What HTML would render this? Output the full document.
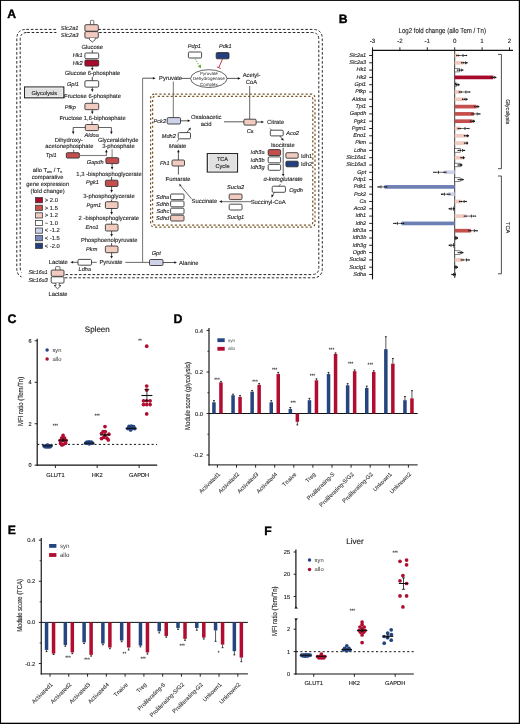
<!DOCTYPE html>
<html><head><meta charset="utf-8"><style>
html,body{margin:0;padding:0;background:#fff;}
body{width:520px;height:724px;overflow:hidden;}
svg{display:block;font-family:"Liberation Sans", sans-serif;will-change:transform;text-rendering:geometricPrecision;}
</style></head><body>
<svg width="520" height="724" viewBox="0 0 520 724">
<rect x="0" y="0" width="520" height="724" fill="#fff"/>
<text x="7.30" y="17.70" font-size="12.2" text-anchor="start" font-style="normal" font-weight="bold" fill="#000" stroke="#000" stroke-width="0.35" >A</text>
<path d="M26.3,29.4 L312.8,29.4 Q322.3,29.4 322.3,38.9 L322.3,268.3 Q322.3,277.8 312.8,277.8 L26.3,277.8 Q16.8,277.8 16.8,268.3 L16.8,38.9 Q16.8,29.4 26.3,29.4 Z" stroke="#1a1a1a" stroke-width="0.95" fill="none" stroke-dasharray="2.6,1.9"/>
<path d="M27.2,32.5 L311.8,32.5 Q318.8,32.5 318.8,39.5 L318.8,267.6 Q318.8,274.6 311.8,274.6 L27.2,274.6 Q20.2,274.6 20.2,267.6 L20.2,39.5 Q20.2,32.5 27.2,32.5 Z" stroke="#1a1a1a" stroke-width="0.95" fill="none" stroke-dasharray="2.6,1.9"/>
<rect x="56.50" y="27.00" width="28.30" height="8.00" rx="0" fill="#fff" stroke="none" stroke-width="0.8" />
<rect x="21.50" y="272.00" width="29.40" height="8.00" rx="0" fill="#fff" stroke="none" stroke-width="0.8" />
<path d="M155.1,94.0 L310.5,94.0 Q315.0,94.0 315.0,98.5 L315.0,222.7 Q315.0,227.2 310.5,227.2 L155.1,227.2 Q150.6,227.2 150.6,222.7 L150.6,98.5 Q150.6,94.0 155.1,94.0 Z" stroke="#765529" stroke-width="1.25" fill="none" stroke-dasharray="2.1,2.2"/>
<path d="M155.6,96.3 L309.8,96.3 Q312.8,96.3 312.8,99.3 L312.8,222.1 Q312.8,225.1 309.8,225.1 L155.6,225.1 Q152.6,225.1 152.6,222.1 L152.6,99.3 Q152.6,96.3 155.6,96.3 Z" stroke="#765529" stroke-width="1.25" fill="none" stroke-dasharray="2.1,2.2" stroke-dashoffset="2.1"/>
<rect x="24.60" y="87.00" width="39.20" height="10.80" rx="0" fill="#e1e1e1" stroke="#2a2a2a" stroke-width="1.2" />
<rect x="25.60" y="88.00" width="37.20" height="8.80" rx="0" fill="none" stroke="#fafafa" stroke-width="0.6" />
<text x="44.20" y="94.60" font-size="5.7" text-anchor="middle" font-style="normal" font-weight="normal" fill="#1e1e1e" stroke="#1e1e1e" stroke-width="0.12" >Glycolysis</text>
<rect x="207.30" y="153.60" width="30.20" height="18.40" rx="0" fill="#e1e1e1" stroke="#2a2a2a" stroke-width="1.2" />
<rect x="208.30" y="154.60" width="28.20" height="16.40" rx="0" fill="none" stroke="#fafafa" stroke-width="0.6" />
<text x="222.50" y="161.20" font-size="5.6" text-anchor="middle" font-style="normal" font-weight="normal" fill="#1e1e1e" stroke="#1e1e1e" stroke-width="0.12" >TCA</text>
<text x="222.50" y="167.90" font-size="5.6" text-anchor="middle" font-style="normal" font-weight="normal" fill="#1e1e1e" stroke="#1e1e1e" stroke-width="0.12" >Cycle</text>
<path d="M90.4,24.8 L90.4,21.4 Q90.4,20.4 91.4,20.4 L92.8,20.4 Q93.8,20.4 93.8,21.4 L93.8,24.8" fill="#fff" stroke="#333" stroke-width="0.7"/>
<rect x="84.90" y="24.70" width="13.40" height="6.50" rx="1.1" fill="#f1cbc0" stroke="#2a2a2a" stroke-width="0.85" />
<rect x="84.90" y="31.60" width="13.40" height="6.50" rx="1.1" fill="#f1cbc0" stroke="#2a2a2a" stroke-width="0.85" />
<path d="M89.5,38.1 L89.5,39.6 L92.35,42.1 L95.2,39.6 L95.2,38.1" fill="#fff" stroke="#2a2a2a" stroke-width="0.8"/>
<text x="78.60" y="29.80" font-size="5.8" text-anchor="end" font-style="italic" font-weight="normal" fill="#1e1e1e" stroke="#1e1e1e" stroke-width="0.12" >Slc2a1</text>
<text x="78.60" y="36.90" font-size="5.8" text-anchor="end" font-style="italic" font-weight="normal" fill="#1e1e1e" stroke="#1e1e1e" stroke-width="0.12" >Slc2a3</text>
<text x="92.20" y="48.60" font-size="5.85" text-anchor="middle" font-style="normal" font-weight="normal" fill="#1e1e1e" stroke="#1e1e1e" stroke-width="0.12" >Glucose</text>
<line x1="92.30" y1="50.20" x2="92.30" y2="53.00" stroke="#222" stroke-width="0.8" />
<rect x="84.90" y="53.00" width="13.80" height="5.70" rx="1.1" fill="#ffffff" stroke="#2a2a2a" stroke-width="0.85" />
<rect x="84.90" y="60.00" width="13.80" height="6.10" rx="1.1" fill="#a80a2c" stroke="#2a2a2a" stroke-width="0.85" />
<text x="82.60" y="57.40" font-size="5.6" text-anchor="end" font-style="italic" font-weight="normal" fill="#1e1e1e" stroke="#1e1e1e" stroke-width="0.12" >Hk1</text>
<text x="82.60" y="64.80" font-size="5.6" text-anchor="end" font-style="italic" font-weight="normal" fill="#1e1e1e" stroke="#1e1e1e" stroke-width="0.12" >Hk2</text>
<line x1="92.30" y1="66.10" x2="92.30" y2="68.80" stroke="#222" stroke-width="0.75" />
<path d="M91.00,67.90 L93.60,67.90 L92.30,70.60 Z" fill="#1a1a1a"/>
<text x="92.50" y="75.10" font-size="5.85" text-anchor="middle" font-style="normal" font-weight="normal" fill="#1e1e1e" stroke="#1e1e1e" stroke-width="0.12" >Glucose 6-phosphate</text>
<line x1="92.30" y1="76.80" x2="92.30" y2="80.70" stroke="#222" stroke-width="0.8" />
<rect x="84.90" y="80.70" width="13.80" height="6.40" rx="1.1" fill="#ffffff" stroke="#2a2a2a" stroke-width="0.85" />
<text x="78.80" y="86.20" font-size="5.6" text-anchor="end" font-style="italic" font-weight="normal" fill="#1e1e1e" stroke="#1e1e1e" stroke-width="0.12" >Gpi1</text>
<line x1="92.30" y1="87.10" x2="92.30" y2="90.20" stroke="#222" stroke-width="0.75" />
<path d="M91.00,89.30 L93.60,89.30 L92.30,92.00 Z" fill="#1a1a1a"/>
<text x="92.50" y="97.50" font-size="5.85" text-anchor="middle" font-style="normal" font-weight="normal" fill="#1e1e1e" stroke="#1e1e1e" stroke-width="0.12" >Fructose 6-phosphate</text>
<line x1="92.30" y1="98.80" x2="92.30" y2="103.30" stroke="#222" stroke-width="0.8" />
<rect x="84.90" y="103.30" width="13.80" height="6.40" rx="1.1" fill="#f1cbc0" stroke="#2a2a2a" stroke-width="0.85" />
<text x="75.90" y="108.60" font-size="5.6" text-anchor="end" font-style="italic" font-weight="normal" fill="#1e1e1e" stroke="#1e1e1e" stroke-width="0.12" >Pfkp</text>
<line x1="92.30" y1="109.70" x2="92.30" y2="112.40" stroke="#222" stroke-width="0.75" />
<path d="M91.00,111.50 L93.60,111.50 L92.30,114.20 Z" fill="#1a1a1a"/>
<text x="92.60" y="120.00" font-size="5.85" text-anchor="middle" font-style="normal" font-weight="normal" fill="#1e1e1e" stroke="#1e1e1e" stroke-width="0.12" >Fructose 1,6-biphosphate</text>
<line x1="92.00" y1="121.40" x2="92.00" y2="124.50" stroke="#222" stroke-width="0.8" />
<rect x="85.30" y="124.50" width="13.10" height="6.10" rx="1.1" fill="#f1cbc0" stroke="#2a2a2a" stroke-width="0.85" />
<text x="91.60" y="136.60" font-size="5.6" text-anchor="middle" font-style="italic" font-weight="normal" fill="#1e1e1e" stroke="#1e1e1e" stroke-width="0.12" >Aldoa</text>
<line x1="73.20" y1="127.50" x2="85.30" y2="127.50" stroke="#222" stroke-width="0.7" />
<line x1="98.40" y1="127.50" x2="111.40" y2="127.50" stroke="#222" stroke-width="0.7" />
<line x1="73.20" y1="127.50" x2="73.20" y2="132.50" stroke="#222" stroke-width="0.75" />
<path d="M71.90,131.60 L74.50,131.60 L73.20,134.30 Z" fill="#1a1a1a"/>
<line x1="111.40" y1="127.50" x2="111.40" y2="132.50" stroke="#222" stroke-width="0.75" />
<path d="M110.10,131.60 L112.70,131.60 L111.40,134.30 Z" fill="#1a1a1a"/>
<text x="68.80" y="142.00" font-size="5.85" text-anchor="middle" font-style="normal" font-weight="normal" fill="#1e1e1e" stroke="#1e1e1e" stroke-width="0.12" >Dihydroxy-</text>
<text x="69.40" y="147.50" font-size="5.85" text-anchor="middle" font-style="normal" font-weight="normal" fill="#1e1e1e" stroke="#1e1e1e" stroke-width="0.12" >acetonephosphate</text>
<text x="118.30" y="142.00" font-size="5.85" text-anchor="middle" font-style="normal" font-weight="normal" fill="#1e1e1e" stroke="#1e1e1e" stroke-width="0.12" >Glyceraldehyde</text>
<text x="118.40" y="147.50" font-size="5.85" text-anchor="middle" font-style="normal" font-weight="normal" fill="#1e1e1e" stroke="#1e1e1e" stroke-width="0.12" >3-phosphate</text>
<line x1="73.70" y1="149.80" x2="73.70" y2="152.70" stroke="#222" stroke-width="0.7" />
<rect x="66.30" y="152.70" width="13.10" height="5.40" rx="1.1" fill="#c4504e" stroke="#2a2a2a" stroke-width="0.85" />
<text x="56.60" y="157.10" font-size="5.6" text-anchor="end" font-style="italic" font-weight="normal" fill="#1e1e1e" stroke="#1e1e1e" stroke-width="0.12" >Tpi1</text>
<line x1="79.40" y1="155.50" x2="106.40" y2="155.50" stroke="#808080" stroke-width="1.1" />
<line x1="106.40" y1="156.00" x2="106.40" y2="152.00" stroke="#808080" stroke-width="1.1" />
<line x1="106.40" y1="152.50" x2="106.40" y2="151.40" stroke="#222" stroke-width="0.75" />
<path d="M105.10,152.30 L107.70,152.30 L106.40,149.60 Z" fill="#1a1a1a"/>
<line x1="112.10" y1="149.30" x2="112.10" y2="157.70" stroke="#808080" stroke-width="1.0" />
<rect x="105.90" y="157.70" width="12.80" height="5.90" rx="1.1" fill="#c4504e" stroke="#2a2a2a" stroke-width="0.85" />
<text x="103.60" y="163.90" font-size="5.6" text-anchor="end" font-style="italic" font-weight="normal" fill="#1e1e1e" stroke="#1e1e1e" stroke-width="0.12" >Gapdh</text>
<line x1="112.10" y1="163.60" x2="112.10" y2="168.00" stroke="#222" stroke-width="0.75" />
<path d="M110.80,167.10 L113.40,167.10 L112.10,169.80 Z" fill="#1a1a1a"/>
<text x="109.00" y="175.50" font-size="5.85" text-anchor="middle" font-style="normal" font-weight="normal" fill="#1e1e1e" stroke="#1e1e1e" stroke-width="0.12" >1,3 -bisphosphoglycerate</text>
<line x1="111.60" y1="177.00" x2="111.60" y2="180.20" stroke="#222" stroke-width="0.8" />
<rect x="105.40" y="180.20" width="12.60" height="6.30" rx="1.1" fill="#c4504e" stroke="#2a2a2a" stroke-width="0.85" />
<text x="98.80" y="183.70" font-size="5.6" text-anchor="end" font-style="italic" font-weight="normal" fill="#1e1e1e" stroke="#1e1e1e" stroke-width="0.12" >Pgk1</text>
<line x1="111.60" y1="186.50" x2="111.60" y2="191.00" stroke="#222" stroke-width="0.75" />
<path d="M110.30,190.10 L112.90,190.10 L111.60,192.80 Z" fill="#1a1a1a"/>
<text x="109.00" y="198.20" font-size="5.85" text-anchor="middle" font-style="normal" font-weight="normal" fill="#1e1e1e" stroke="#1e1e1e" stroke-width="0.12" >3-phosphoglycerate</text>
<line x1="111.60" y1="199.60" x2="111.60" y2="201.70" stroke="#222" stroke-width="0.8" />
<rect x="105.40" y="201.70" width="12.60" height="6.80" rx="1.1" fill="#f1cbc0" stroke="#2a2a2a" stroke-width="0.85" />
<text x="101.20" y="206.60" font-size="5.6" text-anchor="end" font-style="italic" font-weight="normal" fill="#1e1e1e" stroke="#1e1e1e" stroke-width="0.12" >Pgm1</text>
<line x1="111.60" y1="208.50" x2="111.60" y2="213.00" stroke="#222" stroke-width="0.75" />
<path d="M110.30,212.10 L112.90,212.10 L111.60,214.80 Z" fill="#1a1a1a"/>
<text x="108.80" y="219.70" font-size="5.85" text-anchor="middle" font-style="normal" font-weight="normal" fill="#1e1e1e" stroke="#1e1e1e" stroke-width="0.12" >2 -bisphosphoglycerate</text>
<line x1="111.60" y1="221.20" x2="111.60" y2="224.20" stroke="#222" stroke-width="0.8" />
<rect x="105.40" y="224.20" width="12.60" height="6.80" rx="1.1" fill="#f1cbc0" stroke="#2a2a2a" stroke-width="0.85" />
<text x="98.70" y="228.70" font-size="5.6" text-anchor="end" font-style="italic" font-weight="normal" fill="#1e1e1e" stroke="#1e1e1e" stroke-width="0.12" >Eno1</text>
<line x1="111.60" y1="231.00" x2="111.60" y2="234.90" stroke="#222" stroke-width="0.75" />
<path d="M110.30,234.00 L112.90,234.00 L111.60,236.70 Z" fill="#1a1a1a"/>
<text x="109.20" y="241.60" font-size="5.85" text-anchor="middle" font-style="normal" font-weight="normal" fill="#1e1e1e" stroke="#1e1e1e" stroke-width="0.12" >Phosphoenolpyruvate</text>
<line x1="111.60" y1="243.10" x2="111.60" y2="246.00" stroke="#222" stroke-width="0.8" />
<rect x="105.40" y="246.00" width="12.60" height="6.70" rx="1.1" fill="#f1cbc0" stroke="#2a2a2a" stroke-width="0.85" />
<text x="97.30" y="251.40" font-size="5.6" text-anchor="end" font-style="italic" font-weight="normal" fill="#1e1e1e" stroke="#1e1e1e" stroke-width="0.12" >Pkm</text>
<line x1="111.60" y1="252.70" x2="111.60" y2="256.80" stroke="#222" stroke-width="0.75" />
<path d="M110.30,255.90 L112.90,255.90 L111.60,258.60 Z" fill="#1a1a1a"/>
<text x="111.00" y="264.00" font-size="5.85" text-anchor="middle" font-style="normal" font-weight="normal" fill="#1e1e1e" stroke="#1e1e1e" stroke-width="0.12" >Pyruvate</text>
<line x1="91.50" y1="262.30" x2="96.70" y2="262.30" stroke="#222" stroke-width="0.7" />
<rect x="78.00" y="259.40" width="13.50" height="5.80" rx="1.1" fill="#ffffff" stroke="#2a2a2a" stroke-width="0.85" />
<line x1="78.00" y1="262.30" x2="72.20" y2="262.30" stroke="#222" stroke-width="0.75" />
<path d="M73.10,261.00 L73.10,263.60 L70.40,262.30 Z" fill="#1a1a1a"/>
<text x="58.30" y="263.80" font-size="5.85" text-anchor="middle" font-style="normal" font-weight="normal" fill="#1e1e1e" stroke="#1e1e1e" stroke-width="0.12" >Lactate</text>
<text x="84.80" y="271.00" font-size="5.6" text-anchor="middle" font-style="italic" font-weight="normal" fill="#1e1e1e" stroke="#1e1e1e" stroke-width="0.12" >Ldha</text>
<path d="M55.6,270.2 L55.6,267.4 Q55.6,266.6 56.4,266.6 L59.2,266.6 Q60.0,266.6 60.0,267.4 L60.0,270.2" fill="#fff" stroke="#333" stroke-width="0.7"/>
<rect x="51.20" y="270.00" width="12.80" height="6.30" rx="1.1" fill="#f1cbc0" stroke="#2a2a2a" stroke-width="0.85" />
<rect x="51.20" y="276.80" width="12.80" height="6.30" rx="1.1" fill="#ffffff" stroke="#2a2a2a" stroke-width="0.85" />
<path d="M55.9,283.1 L55.9,285.5 L54.1,285.5 L57.55,288.8 L61.0,285.5 L59.2,285.5 L59.2,283.1" fill="#fff" stroke="#2a2a2a" stroke-width="0.8"/>
<text x="47.60" y="274.00" font-size="5.6" text-anchor="end" font-style="italic" font-weight="normal" fill="#1e1e1e" stroke="#1e1e1e" stroke-width="0.12" textLength="19.2" lengthAdjust="spacingAndGlyphs">Slc16a1</text>
<text x="47.60" y="282.00" font-size="5.6" text-anchor="end" font-style="italic" font-weight="normal" fill="#1e1e1e" stroke="#1e1e1e" stroke-width="0.12" textLength="19.2" lengthAdjust="spacingAndGlyphs">Slc16a3</text>
<text x="58.00" y="295.50" font-size="5.85" text-anchor="middle" font-style="normal" font-weight="normal" fill="#1e1e1e" stroke="#1e1e1e" stroke-width="0.12" >Lactate</text>
<line x1="125.40" y1="262.40" x2="149.50" y2="262.40" stroke="#444" stroke-width="0.8" />
<line x1="142.60" y1="262.40" x2="142.60" y2="78.20" stroke="#666" stroke-width="0.9" />
<line x1="142.60" y1="78.20" x2="153.80" y2="78.20" stroke="#222" stroke-width="0.75" />
<path d="M152.90,76.90 L152.90,79.50 L155.60,78.20 Z" fill="#1a1a1a"/>
<rect x="149.50" y="259.50" width="13.50" height="6.00" rx="1.1" fill="#cfd3ea" stroke="#2a2a2a" stroke-width="0.85" />
<text x="156.20" y="255.00" font-size="5.6" text-anchor="middle" font-style="italic" font-weight="normal" fill="#1e1e1e" stroke="#1e1e1e" stroke-width="0.12" >Gpt</text>
<line x1="163.00" y1="262.50" x2="175.20" y2="262.50" stroke="#222" stroke-width="0.75" />
<path d="M174.30,261.20 L174.30,263.80 L177.00,262.50 Z" fill="#1a1a1a"/>
<text x="179.00" y="264.60" font-size="5.85" text-anchor="start" font-style="normal" font-weight="normal" fill="#1e1e1e" stroke="#1e1e1e" stroke-width="0.12" >Alanine</text>
<text x="170.60" y="80.20" font-size="5.85" text-anchor="middle" font-style="normal" font-weight="normal" fill="#1e1e1e" stroke="#1e1e1e" stroke-width="0.12" >Pyruvate</text>
<line x1="181.40" y1="78.40" x2="190.50" y2="78.40" stroke="#222" stroke-width="0.75" />
<ellipse cx="208.8" cy="78.6" rx="18.2" ry="8.9" fill="#fff" stroke="#333" stroke-width="0.75"/>
<text x="208.80" y="74.90" font-size="4.5" text-anchor="middle" font-style="normal" font-weight="normal" fill="#1e1e1e"  >Pyruvate</text>
<text x="208.80" y="80.40" font-size="4.5" text-anchor="middle" font-style="normal" font-weight="normal" fill="#1e1e1e"  >Dehydrogenase</text>
<text x="208.80" y="85.50" font-size="4.5" text-anchor="middle" font-style="normal" font-weight="normal" fill="#1e1e1e"  >Complex</text>
<line x1="227.00" y1="78.40" x2="238.70" y2="78.40" stroke="#222" stroke-width="0.75" />
<path d="M237.80,77.10 L237.80,79.70 L240.50,78.40 Z" fill="#1a1a1a"/>
<text x="251.60" y="77.00" font-size="5.85" text-anchor="middle" font-style="normal" font-weight="normal" fill="#1e1e1e" stroke="#1e1e1e" stroke-width="0.12" >Acetyl-</text>
<text x="251.50" y="83.80" font-size="5.85" text-anchor="middle" font-style="normal" font-weight="normal" fill="#1e1e1e" stroke="#1e1e1e" stroke-width="0.12" >CoA</text>
<text x="194.40" y="48.00" font-size="5.6" text-anchor="middle" font-style="italic" font-weight="normal" fill="#1e1e1e" stroke="#1e1e1e" stroke-width="0.12" >Pdp1</text>
<rect x="188.40" y="52.00" width="13.20" height="6.00" rx="1.1" fill="#ffffff" stroke="#2a2a2a" stroke-width="0.85" />
<text x="225.30" y="48.00" font-size="5.6" text-anchor="middle" font-style="italic" font-weight="normal" fill="#1e1e1e" stroke="#1e1e1e" stroke-width="0.12" >Pdk1</text>
<rect x="216.20" y="52.60" width="12.80" height="6.20" rx="1.1" fill="#233f7e" stroke="#2a2a2a" stroke-width="0.85" />
<line x1="195.00" y1="58.40" x2="199.20" y2="65.60" stroke="#62ad3a" stroke-width="0.9" stroke-dasharray="1.6,1.0"/>
<path d="M197.8,66.2 L201.0,64.6 L200.9,68.6 Z" fill="#62ad3a"/>
<line x1="222.60" y1="58.80" x2="218.80" y2="67.60" stroke="#c0223a" stroke-width="0.9" />
<line x1="216.90" y1="66.80" x2="220.70" y2="68.50" stroke="#c0223a" stroke-width="0.9" />
<line x1="173.30" y1="81.50" x2="173.30" y2="117.60" stroke="#666" stroke-width="0.9" />
<rect x="167.20" y="117.60" width="13.30" height="6.40" rx="1.1" fill="#cfd3ea" stroke="#2a2a2a" stroke-width="0.85" />
<text x="166.00" y="123.10" font-size="5.6" text-anchor="end" font-style="italic" font-weight="normal" fill="#1e1e1e" stroke="#1e1e1e" stroke-width="0.12" >Pck2</text>
<line x1="180.50" y1="120.80" x2="188.60" y2="120.80" stroke="#222" stroke-width="0.75" />
<path d="M187.70,119.50 L187.70,122.10 L190.40,120.80 Z" fill="#1a1a1a"/>
<text x="206.20" y="119.00" font-size="5.85" text-anchor="middle" font-style="normal" font-weight="normal" fill="#1e1e1e" stroke="#1e1e1e" stroke-width="0.12" >Oxaloacetic</text>
<text x="206.20" y="125.80" font-size="5.85" text-anchor="middle" font-style="normal" font-weight="normal" fill="#1e1e1e" stroke="#1e1e1e" stroke-width="0.12" >acid</text>
<line x1="224.00" y1="121.80" x2="244.00" y2="121.80" stroke="#222" stroke-width="0.75" />
<line x1="249.70" y1="86.00" x2="249.70" y2="119.20" stroke="#555" stroke-width="0.9" />
<rect x="243.90" y="119.20" width="12.20" height="5.90" rx="1.1" fill="#f1cbc0" stroke="#2a2a2a" stroke-width="0.85" />
<line x1="256.10" y1="122.00" x2="262.20" y2="122.00" stroke="#222" stroke-width="0.75" />
<path d="M261.30,120.70 L261.30,123.30 L264.00,122.00 Z" fill="#1a1a1a"/>
<text x="250.20" y="133.10" font-size="5.6" text-anchor="middle" font-style="italic" font-weight="normal" fill="#1e1e1e" stroke="#1e1e1e" stroke-width="0.12" >Cs</text>
<text x="267.00" y="124.00" font-size="5.85" text-anchor="start" font-style="normal" font-weight="normal" fill="#1e1e1e" stroke="#1e1e1e" stroke-width="0.12" >Citrate</text>
<rect x="270.30" y="130.20" width="12.90" height="5.70" rx="1.1" fill="#ffffff" stroke="#2a2a2a" stroke-width="0.85" />
<line x1="269.60" y1="128.40" x2="272.00" y2="130.60" stroke="#222" stroke-width="0.6" />
<line x1="279.80" y1="135.90" x2="282.20" y2="138.90" stroke="#222" stroke-width="0.7" />
<path d="M283.8,140.8 L280.9,139.6 L283.0,137.9 Z" fill="#1a1a1a"/>
<text x="286.20" y="135.00" font-size="5.6" text-anchor="start" font-style="italic" font-weight="normal" fill="#1e1e1e" stroke="#1e1e1e" stroke-width="0.12" >Aco2</text>
<text x="282.80" y="146.50" font-size="5.85" text-anchor="middle" font-style="normal" font-weight="normal" fill="#1e1e1e" stroke="#1e1e1e" stroke-width="0.12" >Isocitrate</text>
<rect x="268.20" y="149.60" width="12.40" height="5.90" rx="1.1" fill="#c4504e" stroke="#2a2a2a" stroke-width="0.85" />
<rect x="268.20" y="156.90" width="12.40" height="5.90" rx="1.1" fill="#ffffff" stroke="#2a2a2a" stroke-width="0.85" />
<rect x="268.20" y="164.40" width="12.40" height="5.90" rx="1.1" fill="#ffffff" stroke="#2a2a2a" stroke-width="0.85" />
<text x="264.60" y="154.40" font-size="5.6" text-anchor="end" font-style="italic" font-weight="normal" fill="#1e1e1e" stroke="#1e1e1e" stroke-width="0.12" >Idh3a</text>
<text x="264.60" y="161.50" font-size="5.6" text-anchor="end" font-style="italic" font-weight="normal" fill="#1e1e1e" stroke="#1e1e1e" stroke-width="0.12" >Idh3b</text>
<text x="264.60" y="168.90" font-size="5.6" text-anchor="end" font-style="italic" font-weight="normal" fill="#1e1e1e" stroke="#1e1e1e" stroke-width="0.12" >Idh3g</text>
<line x1="283.20" y1="147.80" x2="283.20" y2="174.80" stroke="#222" stroke-width="0.75" />
<path d="M281.90,173.90 L284.50,173.90 L283.20,176.60 Z" fill="#1a1a1a"/>
<rect x="285.90" y="152.70" width="12.30" height="5.50" rx="1.1" fill="#f1cbc0" stroke="#2a2a2a" stroke-width="0.85" />
<rect x="285.90" y="161.20" width="12.30" height="5.60" rx="1.1" fill="#233f7e" stroke="#2a2a2a" stroke-width="0.85" />
<text x="301.00" y="157.60" font-size="5.8" text-anchor="start" font-style="normal" font-weight="normal" fill="#1e1e1e" stroke="#1e1e1e" stroke-width="0.12" >Idh1</text>
<text x="301.00" y="166.10" font-size="5.8" text-anchor="start" font-style="normal" font-weight="normal" fill="#1e1e1e" stroke="#1e1e1e" stroke-width="0.12" >Idh2</text>
<text x="283.00" y="181.20" font-size="5.85" text-anchor="middle" font-style="italic" font-weight="normal" fill="#1e1e1e" stroke="#1e1e1e" stroke-width="0.12" >&#945;-ketoglutarate</text>
<rect x="272.20" y="186.20" width="13.20" height="6.10" rx="1.1" fill="#ffffff" stroke="#2a2a2a" stroke-width="0.85" />
<line x1="280.60" y1="184.00" x2="278.60" y2="186.40" stroke="#222" stroke-width="0.6" />
<line x1="274.30" y1="192.30" x2="272.60" y2="195.40" stroke="#222" stroke-width="0.7" />
<path d="M271.5,197.7 L271.4,194.6 L273.8,195.6 Z" fill="#1a1a1a"/>
<text x="289.20" y="191.60" font-size="5.6" text-anchor="start" font-style="italic" font-weight="normal" fill="#1e1e1e" stroke="#1e1e1e" stroke-width="0.12" >Ogdh</text>
<text x="268.20" y="203.60" font-size="5.85" text-anchor="middle" font-style="normal" font-weight="normal" fill="#1e1e1e" stroke="#1e1e1e" stroke-width="0.12" >Succinyl-CoA</text>
<line x1="251.00" y1="201.60" x2="221.00" y2="201.60" stroke="#8a8a8a" stroke-width="1.3" />
<path d="M221.9,200.3 L221.9,202.9 L219.2,201.6 Z" fill="#1a1a1a"/>
<rect x="229.20" y="194.00" width="12.80" height="5.60" rx="1.1" fill="#f1cbc0" stroke="#2a2a2a" stroke-width="0.85" />
<rect x="229.20" y="204.20" width="12.80" height="5.80" rx="1.1" fill="#ffffff" stroke="#2a2a2a" stroke-width="0.85" />
<text x="235.60" y="189.00" font-size="5.6" text-anchor="middle" font-style="italic" font-weight="normal" fill="#1e1e1e" stroke="#1e1e1e" stroke-width="0.12" >Sucla2</text>
<text x="235.60" y="219.00" font-size="5.6" text-anchor="middle" font-style="italic" font-weight="normal" fill="#1e1e1e" stroke="#1e1e1e" stroke-width="0.12" >Suclg1</text>
<text x="204.40" y="203.20" font-size="5.85" text-anchor="middle" font-style="normal" font-weight="normal" fill="#1e1e1e" stroke="#1e1e1e" stroke-width="0.12" >Succinate</text>
<line x1="191.50" y1="198.80" x2="180.40" y2="185.60" stroke="#222" stroke-width="0.7" />
<path d="M179.0,184.0 L181.6,185.0 L179.9,186.6 Z" fill="#222"/>
<rect x="170.60" y="194.00" width="13.40" height="5.60" rx="1.1" fill="#ffffff" stroke="#2a2a2a" stroke-width="0.85" />
<rect x="170.60" y="201.00" width="13.40" height="5.80" rx="1.1" fill="#ffffff" stroke="#2a2a2a" stroke-width="0.85" />
<rect x="170.60" y="208.20" width="13.40" height="5.80" rx="1.1" fill="#ffffff" stroke="#2a2a2a" stroke-width="0.85" />
<rect x="170.60" y="215.20" width="13.40" height="5.80" rx="1.1" fill="#f1cbc0" stroke="#2a2a2a" stroke-width="0.85" />
<text x="169.20" y="198.60" font-size="5.6" text-anchor="end" font-style="italic" font-weight="normal" fill="#1e1e1e" stroke="#1e1e1e" stroke-width="0.12" >Sdha</text>
<text x="169.20" y="205.60" font-size="5.6" text-anchor="end" font-style="italic" font-weight="normal" fill="#1e1e1e" stroke="#1e1e1e" stroke-width="0.12" >Sdhb</text>
<text x="169.20" y="212.80" font-size="5.6" text-anchor="end" font-style="italic" font-weight="normal" fill="#1e1e1e" stroke="#1e1e1e" stroke-width="0.12" >Sdhc</text>
<text x="169.20" y="219.90" font-size="5.6" text-anchor="end" font-style="italic" font-weight="normal" fill="#1e1e1e" stroke="#1e1e1e" stroke-width="0.12" >Sdhd</text>
<text x="178.10" y="180.60" font-size="5.85" text-anchor="middle" font-style="normal" font-weight="normal" fill="#1e1e1e" stroke="#1e1e1e" stroke-width="0.12" >Fumarate</text>
<line x1="178.40" y1="174.60" x2="178.40" y2="151.40" stroke="#222" stroke-width="0.75" />
<path d="M177.10,152.30 L179.70,152.30 L178.40,149.60 Z" fill="#1a1a1a"/>
<rect x="172.00" y="160.00" width="12.50" height="6.00" rx="1.1" fill="#f1cbc0" stroke="#2a2a2a" stroke-width="0.85" />
<text x="169.60" y="165.00" font-size="5.6" text-anchor="end" font-style="italic" font-weight="normal" fill="#1e1e1e" stroke="#1e1e1e" stroke-width="0.12" >Fh1</text>
<text x="177.60" y="147.70" font-size="5.85" text-anchor="middle" font-style="italic" font-weight="normal" fill="#1e1e1e" stroke="#1e1e1e" stroke-width="0.12" >Malate</text>
<rect x="178.20" y="132.60" width="12.30" height="6.20" rx="1.1" fill="#ffffff" stroke="#2a2a2a" stroke-width="0.85" />
<line x1="178.80" y1="139.00" x2="176.90" y2="141.80" stroke="#222" stroke-width="0.6" />
<line x1="186.60" y1="132.60" x2="189.20" y2="129.60" stroke="#222" stroke-width="0.7" />
<path d="M190.9,127.6 L190.2,130.6 L188.2,128.9 Z" fill="#1a1a1a"/>
<text x="175.80" y="138.20" font-size="5.6" text-anchor="end" font-style="italic" font-weight="normal" fill="#1e1e1e" stroke="#1e1e1e" stroke-width="0.12" >Mdh2</text>
<text x="47.60" y="172.40" font-size="5.85" text-anchor="middle" font-style="normal" font-weight="normal" fill="#1e1e1e" stroke="#1e1e1e" stroke-width="0.12" >allo T<tspan font-size="3.6" dy="0.9">em</tspan><tspan dy="-0.9"> / T</tspan><tspan font-size="3.6" dy="0.9">n</tspan></text>
<text x="47.60" y="179.20" font-size="5.85" text-anchor="middle" font-style="normal" font-weight="normal" fill="#1e1e1e" stroke="#1e1e1e" stroke-width="0.12" >comparative</text>
<text x="47.60" y="186.00" font-size="5.85" text-anchor="middle" font-style="normal" font-weight="normal" fill="#1e1e1e" stroke="#1e1e1e" stroke-width="0.12" >gene expression</text>
<text x="47.60" y="192.70" font-size="5.85" text-anchor="middle" font-style="normal" font-weight="normal" fill="#1e1e1e" stroke="#1e1e1e" stroke-width="0.12" >(fold change)</text>
<rect x="35.60" y="197.60" width="6.90" height="5.20" rx="0" fill="#a80a2c" stroke="#333" stroke-width="0.75" />
<text x="44.80" y="201.90" font-size="5.8" text-anchor="start" font-style="normal" font-weight="normal" fill="#1e1e1e" stroke="#1e1e1e" stroke-width="0.12" >&gt; 2.0</text>
<rect x="35.60" y="205.20" width="6.90" height="5.20" rx="0" fill="#c4504e" stroke="#333" stroke-width="0.75" />
<text x="44.80" y="209.50" font-size="5.8" text-anchor="start" font-style="normal" font-weight="normal" fill="#1e1e1e" stroke="#1e1e1e" stroke-width="0.12" >&gt; 1.5</text>
<rect x="35.60" y="212.80" width="6.90" height="5.20" rx="0" fill="#f1cbc0" stroke="#333" stroke-width="0.75" />
<text x="44.80" y="217.10" font-size="5.8" text-anchor="start" font-style="normal" font-weight="normal" fill="#1e1e1e" stroke="#1e1e1e" stroke-width="0.12" >&gt; 1.2</text>
<rect x="35.60" y="220.40" width="6.90" height="5.20" rx="0" fill="#ffffff" stroke="#333" stroke-width="0.75" />
<text x="44.80" y="224.70" font-size="5.8" text-anchor="start" font-style="normal" font-weight="normal" fill="#1e1e1e" stroke="#1e1e1e" stroke-width="0.12" >~ 1.0</text>
<rect x="35.60" y="228.00" width="6.90" height="5.20" rx="0" fill="#cfd3ea" stroke="#333" stroke-width="0.75" />
<text x="44.80" y="232.30" font-size="5.8" text-anchor="start" font-style="normal" font-weight="normal" fill="#1e1e1e" stroke="#1e1e1e" stroke-width="0.12" >&lt; -1.2</text>
<rect x="35.60" y="235.60" width="6.90" height="5.20" rx="0" fill="#7a89bb" stroke="#333" stroke-width="0.75" />
<text x="44.80" y="239.90" font-size="5.8" text-anchor="start" font-style="normal" font-weight="normal" fill="#1e1e1e" stroke="#1e1e1e" stroke-width="0.12" >&lt; -1.5</text>
<rect x="35.60" y="243.20" width="6.90" height="5.20" rx="0" fill="#233f7e" stroke="#333" stroke-width="0.75" />
<text x="44.80" y="247.50" font-size="5.8" text-anchor="start" font-style="normal" font-weight="normal" fill="#1e1e1e" stroke="#1e1e1e" stroke-width="0.12" >&lt; -2.0</text>
<text x="338.80" y="23.00" font-size="12.2" text-anchor="start" font-style="normal" font-weight="bold" fill="#000" stroke="#000" stroke-width="0.35" >B</text>
<text x="442.30" y="32.50" font-size="7.3" text-anchor="middle" font-style="normal" font-weight="normal" fill="#1e1e1e" stroke="#1e1e1e" stroke-width="0.12" textLength="87.5" lengthAdjust="spacingAndGlyphs">Log2 fold change (allo Tem / Tn)</text>
<text x="372.50" y="42.80" font-size="6.2" text-anchor="middle" font-style="normal" font-weight="normal" fill="#1e1e1e" stroke="#1e1e1e" stroke-width="0.12" >-3</text>
<line x1="372.50" y1="47.30" x2="372.50" y2="50.00" stroke="#111" stroke-width="0.9" />
<text x="399.90" y="42.80" font-size="6.2" text-anchor="middle" font-style="normal" font-weight="normal" fill="#1e1e1e" stroke="#1e1e1e" stroke-width="0.12" >-2</text>
<line x1="399.90" y1="47.30" x2="399.90" y2="50.00" stroke="#111" stroke-width="0.9" />
<text x="427.30" y="42.80" font-size="6.2" text-anchor="middle" font-style="normal" font-weight="normal" fill="#1e1e1e" stroke="#1e1e1e" stroke-width="0.12" >-1</text>
<line x1="427.30" y1="47.30" x2="427.30" y2="50.00" stroke="#111" stroke-width="0.9" />
<text x="454.70" y="42.80" font-size="6.2" text-anchor="middle" font-style="normal" font-weight="normal" fill="#1e1e1e" stroke="#1e1e1e" stroke-width="0.12" >0</text>
<line x1="454.70" y1="47.30" x2="454.70" y2="50.00" stroke="#111" stroke-width="0.9" />
<text x="482.10" y="42.80" font-size="6.2" text-anchor="middle" font-style="normal" font-weight="normal" fill="#1e1e1e" stroke="#1e1e1e" stroke-width="0.12" >1</text>
<line x1="482.10" y1="47.30" x2="482.10" y2="50.00" stroke="#111" stroke-width="0.9" />
<text x="509.50" y="42.80" font-size="6.2" text-anchor="middle" font-style="normal" font-weight="normal" fill="#1e1e1e" stroke="#1e1e1e" stroke-width="0.12" >2</text>
<line x1="509.50" y1="47.30" x2="509.50" y2="50.00" stroke="#111" stroke-width="0.9" />
<line x1="372.00" y1="50.40" x2="513.00" y2="50.40" stroke="#111" stroke-width="1.1" />
<line x1="372.50" y1="49.50" x2="372.50" y2="279.40" stroke="#111" stroke-width="1.15" />
<line x1="454.70" y1="50.00" x2="454.70" y2="278.00" stroke="#222" stroke-width="0.9" />
<text x="366.20" y="56.80" font-size="5.5" text-anchor="end" font-style="italic" font-weight="normal" fill="#1e1e1e" stroke="#1e1e1e" stroke-width="0.12" >Slc2a1</text>
<line x1="369.20" y1="55.50" x2="372.50" y2="55.50" stroke="#111" stroke-width="0.9" />
<rect x="454.70" y="53.65" width="4.11" height="3.70" rx="0" fill="#f1cbc0" stroke="none" stroke-width="0.8" />
<line x1="456.81" y1="55.50" x2="466.48" y2="55.50" stroke="#2a2a2a" stroke-width="0.7" />
<line x1="463.03" y1="54.00" x2="463.03" y2="57.00" stroke="#111" stroke-width="0.8" />
<circle cx="456.81" cy="55.50" r="0.7" fill="#111"/>
<circle cx="458.81" cy="55.50" r="0.7" fill="#111"/>
<circle cx="466.48" cy="55.50" r="0.7" fill="#111"/>
<circle cx="464.95" cy="55.50" r="0.6" fill="#111"/>
<text x="366.20" y="64.10" font-size="5.5" text-anchor="end" font-style="italic" font-weight="normal" fill="#1e1e1e" stroke="#1e1e1e" stroke-width="0.12" >Slc2a3</text>
<line x1="369.20" y1="62.80" x2="372.50" y2="62.80" stroke="#111" stroke-width="0.9" />
<rect x="454.70" y="60.95" width="9.04" height="3.70" rx="0" fill="#f1cbc0" stroke="none" stroke-width="0.8" />
<line x1="461.74" y1="62.80" x2="467.03" y2="62.80" stroke="#2a2a2a" stroke-width="0.7" />
<line x1="465.55" y1="61.30" x2="465.55" y2="64.30" stroke="#111" stroke-width="0.8" />
<circle cx="461.74" cy="62.80" r="0.7" fill="#111"/>
<circle cx="463.74" cy="62.80" r="0.7" fill="#111"/>
<circle cx="467.03" cy="62.80" r="0.7" fill="#111"/>
<circle cx="466.37" cy="62.80" r="0.6" fill="#111"/>
<text x="366.20" y="71.40" font-size="5.5" text-anchor="end" font-style="italic" font-weight="normal" fill="#1e1e1e" stroke="#1e1e1e" stroke-width="0.12" >Hk1</text>
<line x1="369.20" y1="70.10" x2="372.50" y2="70.10" stroke="#111" stroke-width="0.9" />
<rect x="454.70" y="68.30" width="4.66" height="3.60" rx="0" fill="#fff" stroke="#333" stroke-width="0.6" />
<line x1="457.36" y1="70.10" x2="462.92" y2="70.10" stroke="#2a2a2a" stroke-width="0.7" />
<line x1="461.32" y1="68.60" x2="461.32" y2="71.60" stroke="#111" stroke-width="0.8" />
<circle cx="457.36" cy="70.10" r="0.7" fill="#111"/>
<circle cx="459.36" cy="70.10" r="0.7" fill="#111"/>
<circle cx="462.92" cy="70.10" r="0.7" fill="#111"/>
<circle cx="462.21" cy="70.10" r="0.6" fill="#111"/>
<text x="366.20" y="78.70" font-size="5.5" text-anchor="end" font-style="italic" font-weight="normal" fill="#1e1e1e" stroke="#1e1e1e" stroke-width="0.12" >Hk2</text>
<line x1="369.20" y1="77.40" x2="372.50" y2="77.40" stroke="#111" stroke-width="0.9" />
<rect x="454.70" y="75.55" width="38.63" height="3.70" rx="0" fill="#a80a2c" stroke="none" stroke-width="0.8" />
<line x1="491.33" y1="77.40" x2="495.80" y2="77.40" stroke="#2a2a2a" stroke-width="0.7" />
<line x1="494.69" y1="75.90" x2="494.69" y2="78.90" stroke="#111" stroke-width="0.8" />
<circle cx="491.33" cy="77.40" r="0.7" fill="#111"/>
<circle cx="493.33" cy="77.40" r="0.7" fill="#111"/>
<circle cx="495.80" cy="77.40" r="0.7" fill="#111"/>
<circle cx="495.31" cy="77.40" r="0.6" fill="#111"/>
<text x="366.20" y="86.00" font-size="5.5" text-anchor="end" font-style="italic" font-weight="normal" fill="#1e1e1e" stroke="#1e1e1e" stroke-width="0.12" >Gpi1</text>
<line x1="369.20" y1="84.70" x2="372.50" y2="84.70" stroke="#111" stroke-width="0.9" />
<rect x="454.70" y="82.90" width="1.92" height="3.60" rx="0" fill="#fff" stroke="#333" stroke-width="0.6" />
<line x1="455.66" y1="84.70" x2="459.08" y2="84.70" stroke="#2a2a2a" stroke-width="0.7" />
<line x1="457.97" y1="83.20" x2="457.97" y2="86.20" stroke="#111" stroke-width="0.8" />
<circle cx="455.66" cy="84.70" r="0.7" fill="#111"/>
<circle cx="456.62" cy="84.70" r="0.7" fill="#111"/>
<circle cx="459.08" cy="84.70" r="0.7" fill="#111"/>
<circle cx="458.59" cy="84.70" r="0.6" fill="#111"/>
<text x="366.20" y="93.30" font-size="5.5" text-anchor="end" font-style="italic" font-weight="normal" fill="#1e1e1e" stroke="#1e1e1e" stroke-width="0.12" >Pfkp</text>
<line x1="369.20" y1="92.00" x2="372.50" y2="92.00" stroke="#111" stroke-width="0.9" />
<rect x="454.70" y="90.15" width="6.58" height="3.70" rx="0" fill="#f1cbc0" stroke="none" stroke-width="0.8" />
<line x1="459.28" y1="92.00" x2="469.77" y2="92.00" stroke="#2a2a2a" stroke-width="0.7" />
<line x1="465.95" y1="90.50" x2="465.95" y2="93.50" stroke="#111" stroke-width="0.8" />
<circle cx="459.28" cy="92.00" r="0.7" fill="#111"/>
<circle cx="461.28" cy="92.00" r="0.7" fill="#111"/>
<circle cx="469.77" cy="92.00" r="0.7" fill="#111"/>
<circle cx="468.07" cy="92.00" r="0.6" fill="#111"/>
<text x="366.20" y="100.60" font-size="5.5" text-anchor="end" font-style="italic" font-weight="normal" fill="#1e1e1e" stroke="#1e1e1e" stroke-width="0.12" >Aldoa</text>
<line x1="369.20" y1="99.30" x2="372.50" y2="99.30" stroke="#111" stroke-width="0.9" />
<rect x="454.70" y="97.45" width="9.86" height="3.70" rx="0" fill="#f1cbc0" stroke="none" stroke-width="0.8" />
<line x1="462.56" y1="99.30" x2="467.03" y2="99.30" stroke="#2a2a2a" stroke-width="0.7" />
<line x1="465.92" y1="97.80" x2="465.92" y2="100.80" stroke="#111" stroke-width="0.8" />
<circle cx="462.56" cy="99.30" r="0.7" fill="#111"/>
<circle cx="464.56" cy="99.30" r="0.7" fill="#111"/>
<circle cx="467.03" cy="99.30" r="0.7" fill="#111"/>
<circle cx="466.54" cy="99.30" r="0.6" fill="#111"/>
<text x="366.20" y="107.90" font-size="5.5" text-anchor="end" font-style="italic" font-weight="normal" fill="#1e1e1e" stroke="#1e1e1e" stroke-width="0.12" >Tpi1</text>
<line x1="369.20" y1="106.60" x2="372.50" y2="106.60" stroke="#111" stroke-width="0.9" />
<rect x="454.70" y="104.75" width="21.92" height="3.70" rx="0" fill="#c4504e" stroke="none" stroke-width="0.8" />
<line x1="474.62" y1="106.60" x2="478.81" y2="106.60" stroke="#2a2a2a" stroke-width="0.7" />
<line x1="477.83" y1="105.10" x2="477.83" y2="108.10" stroke="#111" stroke-width="0.8" />
<circle cx="474.62" cy="106.60" r="0.7" fill="#111"/>
<circle cx="476.62" cy="106.60" r="0.7" fill="#111"/>
<circle cx="478.81" cy="106.60" r="0.7" fill="#111"/>
<circle cx="478.37" cy="106.60" r="0.6" fill="#111"/>
<text x="366.20" y="115.20" font-size="5.5" text-anchor="end" font-style="italic" font-weight="normal" fill="#1e1e1e" stroke="#1e1e1e" stroke-width="0.12" >Gapdh</text>
<line x1="369.20" y1="113.90" x2="372.50" y2="113.90" stroke="#111" stroke-width="0.9" />
<rect x="454.70" y="112.05" width="19.18" height="3.70" rx="0" fill="#c4504e" stroke="none" stroke-width="0.8" />
<line x1="471.88" y1="113.90" x2="479.91" y2="113.90" stroke="#2a2a2a" stroke-width="0.7" />
<line x1="477.20" y1="112.40" x2="477.20" y2="115.40" stroke="#111" stroke-width="0.8" />
<circle cx="471.88" cy="113.90" r="0.7" fill="#111"/>
<circle cx="473.88" cy="113.90" r="0.7" fill="#111"/>
<circle cx="479.91" cy="113.90" r="0.7" fill="#111"/>
<circle cx="478.70" cy="113.90" r="0.6" fill="#111"/>
<text x="366.20" y="122.50" font-size="5.5" text-anchor="end" font-style="italic" font-weight="normal" fill="#1e1e1e" stroke="#1e1e1e" stroke-width="0.12" >Pgk1</text>
<line x1="369.20" y1="121.20" x2="372.50" y2="121.20" stroke="#111" stroke-width="0.9" />
<rect x="454.70" y="119.35" width="17.81" height="3.70" rx="0" fill="#c4504e" stroke="none" stroke-width="0.8" />
<line x1="470.51" y1="121.20" x2="474.43" y2="121.20" stroke="#2a2a2a" stroke-width="0.7" />
<line x1="473.56" y1="119.70" x2="473.56" y2="122.70" stroke="#111" stroke-width="0.8" />
<circle cx="470.51" cy="121.20" r="0.7" fill="#111"/>
<circle cx="472.51" cy="121.20" r="0.7" fill="#111"/>
<circle cx="474.43" cy="121.20" r="0.7" fill="#111"/>
<circle cx="474.04" cy="121.20" r="0.6" fill="#111"/>
<text x="366.20" y="129.80" font-size="5.5" text-anchor="end" font-style="italic" font-weight="normal" fill="#1e1e1e" stroke="#1e1e1e" stroke-width="0.12" >Pgm1</text>
<line x1="369.20" y1="128.50" x2="372.50" y2="128.50" stroke="#111" stroke-width="0.9" />
<rect x="454.70" y="126.65" width="5.48" height="3.70" rx="0" fill="#f1cbc0" stroke="none" stroke-width="0.8" />
<line x1="458.18" y1="128.50" x2="468.95" y2="128.50" stroke="#2a2a2a" stroke-width="0.7" />
<line x1="465.00" y1="127.00" x2="465.00" y2="130.00" stroke="#111" stroke-width="0.8" />
<circle cx="458.18" cy="128.50" r="0.7" fill="#111"/>
<circle cx="460.18" cy="128.50" r="0.7" fill="#111"/>
<circle cx="468.95" cy="128.50" r="0.7" fill="#111"/>
<circle cx="467.19" cy="128.50" r="0.6" fill="#111"/>
<text x="366.20" y="137.10" font-size="5.5" text-anchor="end" font-style="italic" font-weight="normal" fill="#1e1e1e" stroke="#1e1e1e" stroke-width="0.12" >Eno1</text>
<line x1="369.20" y1="135.80" x2="372.50" y2="135.80" stroke="#111" stroke-width="0.9" />
<rect x="454.70" y="133.95" width="11.78" height="3.70" rx="0" fill="#f1cbc0" stroke="none" stroke-width="0.8" />
<line x1="464.48" y1="135.80" x2="468.40" y2="135.80" stroke="#2a2a2a" stroke-width="0.7" />
<line x1="467.54" y1="134.30" x2="467.54" y2="137.30" stroke="#111" stroke-width="0.8" />
<circle cx="464.48" cy="135.80" r="0.7" fill="#111"/>
<circle cx="466.48" cy="135.80" r="0.7" fill="#111"/>
<circle cx="468.40" cy="135.80" r="0.7" fill="#111"/>
<circle cx="468.02" cy="135.80" r="0.6" fill="#111"/>
<text x="366.20" y="144.40" font-size="5.5" text-anchor="end" font-style="italic" font-weight="normal" fill="#1e1e1e" stroke="#1e1e1e" stroke-width="0.12" >Pkm</text>
<line x1="369.20" y1="143.10" x2="372.50" y2="143.10" stroke="#111" stroke-width="0.9" />
<rect x="454.70" y="141.25" width="11.78" height="3.70" rx="0" fill="#f1cbc0" stroke="none" stroke-width="0.8" />
<line x1="464.48" y1="143.10" x2="467.58" y2="143.10" stroke="#2a2a2a" stroke-width="0.7" />
<line x1="467.08" y1="141.60" x2="467.08" y2="144.60" stroke="#111" stroke-width="0.8" />
<circle cx="464.48" cy="143.10" r="0.7" fill="#111"/>
<circle cx="466.48" cy="143.10" r="0.7" fill="#111"/>
<circle cx="467.58" cy="143.10" r="0.7" fill="#111"/>
<circle cx="467.36" cy="143.10" r="0.6" fill="#111"/>
<text x="366.20" y="151.70" font-size="5.5" text-anchor="end" font-style="italic" font-weight="normal" fill="#1e1e1e" stroke="#1e1e1e" stroke-width="0.12" >Ldha</text>
<line x1="369.20" y1="150.40" x2="372.50" y2="150.40" stroke="#111" stroke-width="0.9" />
<rect x="454.70" y="148.60" width="5.48" height="3.60" rx="0" fill="#fff" stroke="#333" stroke-width="0.6" />
<line x1="458.18" y1="150.40" x2="464.56" y2="150.40" stroke="#2a2a2a" stroke-width="0.7" />
<line x1="462.59" y1="148.90" x2="462.59" y2="151.90" stroke="#111" stroke-width="0.8" />
<circle cx="458.18" cy="150.40" r="0.7" fill="#111"/>
<circle cx="460.18" cy="150.40" r="0.7" fill="#111"/>
<circle cx="464.56" cy="150.40" r="0.7" fill="#111"/>
<circle cx="463.69" cy="150.40" r="0.6" fill="#111"/>
<text x="366.20" y="159.00" font-size="5.5" text-anchor="end" font-style="italic" font-weight="normal" fill="#1e1e1e" stroke="#1e1e1e" stroke-width="0.12" >Slc16a1</text>
<line x1="369.20" y1="157.70" x2="372.50" y2="157.70" stroke="#111" stroke-width="0.9" />
<rect x="454.70" y="155.85" width="8.22" height="3.70" rx="0" fill="#f1cbc0" stroke="none" stroke-width="0.8" />
<line x1="460.92" y1="157.70" x2="464.02" y2="157.70" stroke="#2a2a2a" stroke-width="0.7" />
<line x1="463.52" y1="156.20" x2="463.52" y2="159.20" stroke="#111" stroke-width="0.8" />
<circle cx="460.92" cy="157.70" r="0.7" fill="#111"/>
<circle cx="462.92" cy="157.70" r="0.7" fill="#111"/>
<circle cx="464.02" cy="157.70" r="0.7" fill="#111"/>
<circle cx="463.80" cy="157.70" r="0.6" fill="#111"/>
<text x="366.20" y="166.30" font-size="5.5" text-anchor="end" font-style="italic" font-weight="normal" fill="#1e1e1e" stroke="#1e1e1e" stroke-width="0.12" >Slc16a3</text>
<line x1="369.20" y1="165.00" x2="372.50" y2="165.00" stroke="#111" stroke-width="0.9" />
<rect x="454.70" y="163.20" width="5.48" height="3.60" rx="0" fill="#fff" stroke="#333" stroke-width="0.6" />
<line x1="458.18" y1="165.00" x2="461.82" y2="165.00" stroke="#2a2a2a" stroke-width="0.7" />
<line x1="461.08" y1="163.50" x2="461.08" y2="166.50" stroke="#111" stroke-width="0.8" />
<circle cx="458.18" cy="165.00" r="0.7" fill="#111"/>
<circle cx="460.18" cy="165.00" r="0.7" fill="#111"/>
<circle cx="461.82" cy="165.00" r="0.7" fill="#111"/>
<circle cx="461.50" cy="165.00" r="0.6" fill="#111"/>
<text x="366.20" y="173.60" font-size="5.5" text-anchor="end" font-style="italic" font-weight="normal" fill="#1e1e1e" stroke="#1e1e1e" stroke-width="0.12" >Gpt</text>
<line x1="369.20" y1="172.30" x2="372.50" y2="172.30" stroke="#111" stroke-width="0.9" />
<rect x="444.01" y="170.45" width="10.69" height="3.70" rx="0" fill="#cfd3ea" stroke="none" stroke-width="0.8" />
<line x1="446.01" y1="172.30" x2="433.88" y2="172.30" stroke="#2a2a2a" stroke-width="0.7" />
<line x1="438.44" y1="170.80" x2="438.44" y2="173.80" stroke="#111" stroke-width="0.8" />
<circle cx="446.01" cy="172.30" r="0.7" fill="#111"/>
<circle cx="444.01" cy="172.30" r="0.7" fill="#111"/>
<circle cx="433.88" cy="172.30" r="0.7" fill="#111"/>
<circle cx="435.90" cy="172.30" r="0.6" fill="#111"/>
<text x="366.20" y="180.90" font-size="5.5" text-anchor="end" font-style="italic" font-weight="normal" fill="#1e1e1e" stroke="#1e1e1e" stroke-width="0.12" >Pdp1</text>
<line x1="369.20" y1="179.60" x2="372.50" y2="179.60" stroke="#111" stroke-width="0.9" />
<rect x="454.70" y="177.80" width="5.48" height="3.60" rx="0" fill="#fff" stroke="#333" stroke-width="0.6" />
<line x1="458.18" y1="179.60" x2="463.19" y2="179.60" stroke="#2a2a2a" stroke-width="0.7" />
<line x1="461.84" y1="178.10" x2="461.84" y2="181.10" stroke="#111" stroke-width="0.8" />
<circle cx="458.18" cy="179.60" r="0.7" fill="#111"/>
<circle cx="460.18" cy="179.60" r="0.7" fill="#111"/>
<circle cx="463.19" cy="179.60" r="0.7" fill="#111"/>
<circle cx="462.59" cy="179.60" r="0.6" fill="#111"/>
<text x="366.20" y="188.20" font-size="5.5" text-anchor="end" font-style="italic" font-weight="normal" fill="#1e1e1e" stroke="#1e1e1e" stroke-width="0.12" >Pdk1</text>
<line x1="369.20" y1="186.90" x2="372.50" y2="186.90" stroke="#111" stroke-width="0.9" />
<rect x="384.56" y="185.05" width="70.14" height="3.70" rx="0" fill="#6e7fb4" stroke="none" stroke-width="0.8" />
<line x1="386.56" y1="186.90" x2="377.98" y2="186.90" stroke="#2a2a2a" stroke-width="0.7" />
<line x1="380.94" y1="185.40" x2="380.94" y2="188.40" stroke="#111" stroke-width="0.8" />
<circle cx="386.56" cy="186.90" r="0.7" fill="#111"/>
<circle cx="384.56" cy="186.90" r="0.7" fill="#111"/>
<circle cx="377.98" cy="186.90" r="0.7" fill="#111"/>
<circle cx="379.30" cy="186.90" r="0.6" fill="#111"/>
<text x="366.20" y="195.50" font-size="5.5" text-anchor="end" font-style="italic" font-weight="normal" fill="#1e1e1e" stroke="#1e1e1e" stroke-width="0.12" >Pck2</text>
<line x1="369.20" y1="194.20" x2="372.50" y2="194.20" stroke="#111" stroke-width="0.9" />
<rect x="447.85" y="192.35" width="6.85" height="3.70" rx="0" fill="#cfd3ea" stroke="none" stroke-width="0.8" />
<line x1="449.85" y1="194.20" x2="441.55" y2="194.20" stroke="#2a2a2a" stroke-width="0.7" />
<line x1="444.38" y1="192.70" x2="444.38" y2="195.70" stroke="#111" stroke-width="0.8" />
<circle cx="449.85" cy="194.20" r="0.7" fill="#111"/>
<circle cx="447.85" cy="194.20" r="0.7" fill="#111"/>
<circle cx="441.55" cy="194.20" r="0.7" fill="#111"/>
<circle cx="442.81" cy="194.20" r="0.6" fill="#111"/>
<text x="366.20" y="202.80" font-size="5.5" text-anchor="end" font-style="italic" font-weight="normal" fill="#1e1e1e" stroke="#1e1e1e" stroke-width="0.12" >Cs</text>
<line x1="369.20" y1="201.50" x2="372.50" y2="201.50" stroke="#111" stroke-width="0.9" />
<rect x="454.70" y="199.65" width="6.85" height="3.70" rx="0" fill="#f1cbc0" stroke="none" stroke-width="0.8" />
<line x1="459.55" y1="201.50" x2="466.21" y2="201.50" stroke="#2a2a2a" stroke-width="0.7" />
<line x1="464.11" y1="200.00" x2="464.11" y2="203.00" stroke="#111" stroke-width="0.8" />
<circle cx="459.55" cy="201.50" r="0.7" fill="#111"/>
<circle cx="461.55" cy="201.50" r="0.7" fill="#111"/>
<circle cx="466.21" cy="201.50" r="0.7" fill="#111"/>
<circle cx="465.28" cy="201.50" r="0.6" fill="#111"/>
<text x="366.20" y="210.10" font-size="5.5" text-anchor="end" font-style="italic" font-weight="normal" fill="#1e1e1e" stroke="#1e1e1e" stroke-width="0.12" >Aco2</text>
<line x1="369.20" y1="208.80" x2="372.50" y2="208.80" stroke="#111" stroke-width="0.9" />
<rect x="453.60" y="207.00" width="1.10" height="3.60" rx="0" fill="#fff" stroke="#333" stroke-width="0.6" />
<line x1="454.15" y1="208.80" x2="449.22" y2="208.80" stroke="#2a2a2a" stroke-width="0.7" />
<line x1="451.19" y1="207.30" x2="451.19" y2="210.30" stroke="#111" stroke-width="0.8" />
<circle cx="454.15" cy="208.80" r="0.7" fill="#111"/>
<circle cx="453.60" cy="208.80" r="0.7" fill="#111"/>
<circle cx="449.22" cy="208.80" r="0.7" fill="#111"/>
<circle cx="450.10" cy="208.80" r="0.6" fill="#111"/>
<text x="366.20" y="217.40" font-size="5.5" text-anchor="end" font-style="italic" font-weight="normal" fill="#1e1e1e" stroke="#1e1e1e" stroke-width="0.12" >Idh1</text>
<line x1="369.20" y1="216.10" x2="372.50" y2="216.10" stroke="#111" stroke-width="0.9" />
<rect x="454.70" y="214.25" width="11.51" height="3.70" rx="0" fill="#f1cbc0" stroke="none" stroke-width="0.8" />
<line x1="464.21" y1="216.10" x2="475.52" y2="216.10" stroke="#2a2a2a" stroke-width="0.7" />
<line x1="471.33" y1="214.60" x2="471.33" y2="217.60" stroke="#111" stroke-width="0.8" />
<circle cx="464.21" cy="216.10" r="0.7" fill="#111"/>
<circle cx="466.21" cy="216.10" r="0.7" fill="#111"/>
<circle cx="475.52" cy="216.10" r="0.7" fill="#111"/>
<circle cx="473.66" cy="216.10" r="0.6" fill="#111"/>
<text x="366.20" y="224.70" font-size="5.5" text-anchor="end" font-style="italic" font-weight="normal" fill="#1e1e1e" stroke="#1e1e1e" stroke-width="0.12" >Idh2</text>
<line x1="369.20" y1="223.40" x2="372.50" y2="223.40" stroke="#111" stroke-width="0.9" />
<rect x="401.54" y="221.55" width="53.16" height="3.70" rx="0" fill="#6e7fb4" stroke="none" stroke-width="0.8" />
<line x1="403.54" y1="223.40" x2="393.87" y2="223.40" stroke="#2a2a2a" stroke-width="0.7" />
<line x1="397.32" y1="221.90" x2="397.32" y2="224.90" stroke="#111" stroke-width="0.8" />
<circle cx="403.54" cy="223.40" r="0.7" fill="#111"/>
<circle cx="401.54" cy="223.40" r="0.7" fill="#111"/>
<circle cx="393.87" cy="223.40" r="0.7" fill="#111"/>
<circle cx="395.41" cy="223.40" r="0.6" fill="#111"/>
<text x="366.20" y="232.00" font-size="5.5" text-anchor="end" font-style="italic" font-weight="normal" fill="#1e1e1e" stroke="#1e1e1e" stroke-width="0.12" >Idh3a</text>
<line x1="369.20" y1="230.70" x2="372.50" y2="230.70" stroke="#111" stroke-width="0.9" />
<rect x="454.70" y="228.85" width="16.17" height="3.70" rx="0" fill="#c4504e" stroke="none" stroke-width="0.8" />
<line x1="468.87" y1="230.70" x2="477.17" y2="230.70" stroke="#2a2a2a" stroke-width="0.7" />
<line x1="474.33" y1="229.20" x2="474.33" y2="232.20" stroke="#111" stroke-width="0.8" />
<circle cx="468.87" cy="230.70" r="0.7" fill="#111"/>
<circle cx="470.87" cy="230.70" r="0.7" fill="#111"/>
<circle cx="477.17" cy="230.70" r="0.7" fill="#111"/>
<circle cx="475.91" cy="230.70" r="0.6" fill="#111"/>
<text x="366.20" y="239.30" font-size="5.5" text-anchor="end" font-style="italic" font-weight="normal" fill="#1e1e1e" stroke="#1e1e1e" stroke-width="0.12" >Idh3b</text>
<line x1="369.20" y1="238.00" x2="372.50" y2="238.00" stroke="#111" stroke-width="0.9" />
<rect x="454.70" y="236.20" width="1.10" height="3.60" rx="0" fill="#fff" stroke="#333" stroke-width="0.6" />
<line x1="455.25" y1="238.00" x2="457.44" y2="238.00" stroke="#2a2a2a" stroke-width="0.7" />
<line x1="456.70" y1="236.50" x2="456.70" y2="239.50" stroke="#111" stroke-width="0.8" />
<circle cx="455.25" cy="238.00" r="0.7" fill="#111"/>
<circle cx="455.80" cy="238.00" r="0.7" fill="#111"/>
<circle cx="457.44" cy="238.00" r="0.7" fill="#111"/>
<circle cx="457.11" cy="238.00" r="0.6" fill="#111"/>
<text x="366.20" y="246.60" font-size="5.5" text-anchor="end" font-style="italic" font-weight="normal" fill="#1e1e1e" stroke="#1e1e1e" stroke-width="0.12" >Idh3g</text>
<line x1="369.20" y1="245.30" x2="372.50" y2="245.30" stroke="#111" stroke-width="0.9" />
<rect x="453.33" y="243.50" width="1.37" height="3.60" rx="0" fill="#fff" stroke="#333" stroke-width="0.6" />
<line x1="454.01" y1="245.30" x2="449.22" y2="245.30" stroke="#2a2a2a" stroke-width="0.7" />
<line x1="451.07" y1="243.80" x2="451.07" y2="246.80" stroke="#111" stroke-width="0.8" />
<circle cx="454.01" cy="245.30" r="0.7" fill="#111"/>
<circle cx="453.33" cy="245.30" r="0.7" fill="#111"/>
<circle cx="449.22" cy="245.30" r="0.7" fill="#111"/>
<circle cx="450.04" cy="245.30" r="0.6" fill="#111"/>
<text x="366.20" y="253.90" font-size="5.5" text-anchor="end" font-style="italic" font-weight="normal" fill="#1e1e1e" stroke="#1e1e1e" stroke-width="0.12" >Ogdh</text>
<line x1="369.20" y1="252.60" x2="372.50" y2="252.60" stroke="#111" stroke-width="0.9" />
<rect x="454.70" y="250.80" width="5.48" height="3.60" rx="0" fill="#fff" stroke="#333" stroke-width="0.6" />
<line x1="458.18" y1="252.60" x2="462.92" y2="252.60" stroke="#2a2a2a" stroke-width="0.7" />
<line x1="461.69" y1="251.10" x2="461.69" y2="254.10" stroke="#111" stroke-width="0.8" />
<circle cx="458.18" cy="252.60" r="0.7" fill="#111"/>
<circle cx="460.18" cy="252.60" r="0.7" fill="#111"/>
<circle cx="462.92" cy="252.60" r="0.7" fill="#111"/>
<circle cx="462.37" cy="252.60" r="0.6" fill="#111"/>
<text x="366.20" y="261.20" font-size="5.5" text-anchor="end" font-style="italic" font-weight="normal" fill="#1e1e1e" stroke="#1e1e1e" stroke-width="0.12" >Sucla2</text>
<line x1="369.20" y1="259.90" x2="372.50" y2="259.90" stroke="#111" stroke-width="0.9" />
<rect x="454.70" y="258.05" width="8.49" height="3.70" rx="0" fill="#f1cbc0" stroke="none" stroke-width="0.8" />
<line x1="461.19" y1="259.90" x2="469.22" y2="259.90" stroke="#2a2a2a" stroke-width="0.7" />
<line x1="466.51" y1="258.40" x2="466.51" y2="261.40" stroke="#111" stroke-width="0.8" />
<circle cx="461.19" cy="259.90" r="0.7" fill="#111"/>
<circle cx="463.19" cy="259.90" r="0.7" fill="#111"/>
<circle cx="469.22" cy="259.90" r="0.7" fill="#111"/>
<circle cx="468.02" cy="259.90" r="0.6" fill="#111"/>
<text x="366.20" y="268.50" font-size="5.5" text-anchor="end" font-style="italic" font-weight="normal" fill="#1e1e1e" stroke="#1e1e1e" stroke-width="0.12" >Suclg1</text>
<line x1="369.20" y1="267.20" x2="372.50" y2="267.20" stroke="#111" stroke-width="0.9" />
<rect x="454.70" y="265.40" width="0.55" height="3.60" rx="0" fill="#fff" stroke="#333" stroke-width="0.6" />
<line x1="454.97" y1="267.20" x2="457.44" y2="267.20" stroke="#2a2a2a" stroke-width="0.7" />
<line x1="456.45" y1="265.70" x2="456.45" y2="268.70" stroke="#111" stroke-width="0.8" />
<circle cx="454.97" cy="267.20" r="0.7" fill="#111"/>
<circle cx="455.25" cy="267.20" r="0.7" fill="#111"/>
<circle cx="457.44" cy="267.20" r="0.7" fill="#111"/>
<circle cx="457.00" cy="267.20" r="0.6" fill="#111"/>
<text x="366.20" y="275.80" font-size="5.5" text-anchor="end" font-style="italic" font-weight="normal" fill="#1e1e1e" stroke="#1e1e1e" stroke-width="0.12" >Sdha</text>
<line x1="369.20" y1="274.50" x2="372.50" y2="274.50" stroke="#111" stroke-width="0.9" />
<rect x="454.70" y="272.70" width="0.55" height="3.60" rx="0" fill="#fff" stroke="#333" stroke-width="0.6" />
<line x1="454.97" y1="274.50" x2="451.96" y2="274.50" stroke="#2a2a2a" stroke-width="0.7" />
<line x1="453.44" y1="273.00" x2="453.44" y2="276.00" stroke="#111" stroke-width="0.8" />
<circle cx="454.97" cy="274.50" r="0.7" fill="#111"/>
<circle cx="455.25" cy="274.50" r="0.7" fill="#111"/>
<circle cx="451.96" cy="274.50" r="0.7" fill="#111"/>
<circle cx="452.62" cy="274.50" r="0.6" fill="#111"/>
<path d="M498.0,54.4 L501.4,54.4 L501.4,168.7 L498.0,168.7" stroke="#222" stroke-width="0.8" fill="none" />
<path d="M498.0,176.0 L501.4,176.0 L501.4,273.8 L498.0,273.8" stroke="#222" stroke-width="0.8" fill="none" />
<text x="0.00" y="0.00" font-size="5.6" text-anchor="middle" font-style="normal" font-weight="normal" fill="#1e1e1e" stroke="#1e1e1e" stroke-width="0.12" transform="translate(506.4,111.8) rotate(90)">Glycolysis</text>
<text x="0.00" y="0.00" font-size="5.6" text-anchor="middle" font-style="normal" font-weight="normal" fill="#1e1e1e" stroke="#1e1e1e" stroke-width="0.12" transform="translate(506.4,227.6) rotate(90)">TCA</text>
<text x="7.40" y="323.20" font-size="12.4" text-anchor="start" font-style="normal" font-weight="bold" fill="#000" stroke="#000" stroke-width="0.35" >C</text>
<text x="97.30" y="332.40" font-size="8.0" text-anchor="middle" font-style="normal" font-weight="normal" fill="#1e1e1e"  stroke="#1e1e1e" stroke-width="0.16">Spleen</text>
<line x1="37.20" y1="338.70" x2="37.20" y2="465.40" stroke="#111" stroke-width="1.2" />
<line x1="36.70" y1="465.20" x2="157.20" y2="465.20" stroke="#111" stroke-width="1.2" />
<line x1="34.70" y1="465.20" x2="37.20" y2="465.20" stroke="#111" stroke-width="0.9" />
<text x="31.60" y="467.20" font-size="5.6" text-anchor="end" font-style="normal" font-weight="normal" fill="#1e1e1e" stroke="#1e1e1e" stroke-width="0.12" >0</text>
<line x1="34.70" y1="423.74" x2="37.20" y2="423.74" stroke="#111" stroke-width="0.9" />
<text x="31.60" y="425.74" font-size="5.6" text-anchor="end" font-style="normal" font-weight="normal" fill="#1e1e1e" stroke="#1e1e1e" stroke-width="0.12" >2</text>
<line x1="34.70" y1="382.28" x2="37.20" y2="382.28" stroke="#111" stroke-width="0.9" />
<text x="31.60" y="384.28" font-size="5.6" text-anchor="end" font-style="normal" font-weight="normal" fill="#1e1e1e" stroke="#1e1e1e" stroke-width="0.12" >4</text>
<line x1="34.70" y1="340.82" x2="37.20" y2="340.82" stroke="#111" stroke-width="0.9" />
<text x="31.60" y="342.82" font-size="5.6" text-anchor="end" font-style="normal" font-weight="normal" fill="#1e1e1e" stroke="#1e1e1e" stroke-width="0.12" >6</text>
<line x1="55.40" y1="465.20" x2="55.40" y2="468.00" stroke="#111" stroke-width="0.9" />
<text x="55.40" y="476.60" font-size="5.7" text-anchor="middle" font-style="normal" font-weight="normal" fill="#1e1e1e" stroke="#1e1e1e" stroke-width="0.12" >GLUT1</text>
<line x1="97.20" y1="465.20" x2="97.20" y2="468.00" stroke="#111" stroke-width="0.9" />
<text x="97.20" y="476.60" font-size="5.7" text-anchor="middle" font-style="normal" font-weight="normal" fill="#1e1e1e" stroke="#1e1e1e" stroke-width="0.12" >HK2</text>
<line x1="139.10" y1="465.20" x2="139.10" y2="468.00" stroke="#111" stroke-width="0.9" />
<text x="139.10" y="476.60" font-size="5.7" text-anchor="middle" font-style="normal" font-weight="normal" fill="#1e1e1e" stroke="#1e1e1e" stroke-width="0.12" >GAPDH</text>
<text x="0.00" y="0.00" font-size="7.3" text-anchor="middle" font-style="normal" font-weight="normal" fill="#1e1e1e" stroke="#1e1e1e" stroke-width="0.12" textLength="49.4" lengthAdjust="spacingAndGlyphs" transform="translate(22.9,401.4) rotate(-90)">MFI ratio (Tem/Tn)</text>
<line x1="37.20" y1="444.40" x2="157.10" y2="444.40" stroke="#111" stroke-width="1.0" stroke-dasharray="2.1,2.3"/>
<circle cx="47.10" cy="350.10" r="1.75" fill="#24457f"/>
<text x="52.40" y="352.00" font-size="5.8" text-anchor="start" font-style="normal" font-weight="normal" fill="#333"  >syn</text>
<circle cx="47.10" cy="359.00" r="1.75" fill="#b00d30"/>
<text x="52.40" y="360.90" font-size="5.8" text-anchor="start" font-style="normal" font-weight="normal" fill="#333"  >allo</text>
<circle cx="44.20" cy="446.00" r="1.85" fill="#24457f"/>
<circle cx="46.40" cy="445.60" r="1.85" fill="#24457f"/>
<circle cx="48.60" cy="445.60" r="1.85" fill="#24457f"/>
<circle cx="50.80" cy="446.00" r="1.85" fill="#24457f"/>
<circle cx="45.30" cy="446.80" r="1.85" fill="#24457f"/>
<circle cx="47.60" cy="447.00" r="1.85" fill="#24457f"/>
<circle cx="49.80" cy="446.80" r="1.85" fill="#24457f"/>
<circle cx="47.60" cy="445.20" r="1.85" fill="#24457f"/>
<line x1="42.40" y1="445.80" x2="52.80" y2="445.80" stroke="#111" stroke-width="1.1" />
<circle cx="63.10" cy="435.40" r="1.85" fill="#b00d30"/>
<circle cx="61.60" cy="438.00" r="1.85" fill="#b00d30"/>
<circle cx="64.60" cy="438.00" r="1.85" fill="#b00d30"/>
<circle cx="60.20" cy="440.60" r="1.85" fill="#b00d30"/>
<circle cx="63.10" cy="440.40" r="1.85" fill="#b00d30"/>
<circle cx="66.00" cy="440.60" r="1.85" fill="#b00d30"/>
<circle cx="60.60" cy="443.20" r="1.85" fill="#b00d30"/>
<circle cx="63.10" cy="444.40" r="1.85" fill="#b00d30"/>
<circle cx="65.60" cy="443.20" r="1.85" fill="#b00d30"/>
<circle cx="61.80" cy="445.00" r="1.85" fill="#b00d30"/>
<line x1="58.30" y1="440.20" x2="67.90" y2="440.20" stroke="#111" stroke-width="1.1" />
<line x1="63.10" y1="439.20" x2="63.10" y2="441.20" stroke="#111" stroke-width="0.8" />
<line x1="61.70" y1="439.20" x2="64.50" y2="439.20" stroke="#111" stroke-width="0.8" />
<line x1="61.70" y1="441.20" x2="64.50" y2="441.20" stroke="#111" stroke-width="0.8" />
<circle cx="85.80" cy="443.20" r="1.85" fill="#24457f"/>
<circle cx="88.00" cy="443.00" r="1.85" fill="#24457f"/>
<circle cx="90.20" cy="443.00" r="1.85" fill="#24457f"/>
<circle cx="92.40" cy="443.20" r="1.85" fill="#24457f"/>
<circle cx="87.00" cy="442.00" r="1.85" fill="#24457f"/>
<circle cx="89.20" cy="441.80" r="1.85" fill="#24457f"/>
<circle cx="91.40" cy="442.00" r="1.85" fill="#24457f"/>
<circle cx="89.20" cy="443.80" r="1.85" fill="#24457f"/>
<line x1="84.00" y1="443.10" x2="94.40" y2="443.10" stroke="#111" stroke-width="1.1" />
<circle cx="105.00" cy="426.60" r="1.85" fill="#b00d30"/>
<circle cx="103.20" cy="431.50" r="1.85" fill="#b00d30"/>
<circle cx="105.20" cy="431.50" r="1.85" fill="#b00d30"/>
<circle cx="101.50" cy="433.50" r="1.85" fill="#b00d30"/>
<circle cx="108.90" cy="434.20" r="1.85" fill="#b00d30"/>
<circle cx="101.50" cy="438.60" r="1.85" fill="#b00d30"/>
<circle cx="103.60" cy="437.50" r="1.85" fill="#b00d30"/>
<circle cx="108.30" cy="439.90" r="1.85" fill="#b00d30"/>
<circle cx="106.90" cy="438.20" r="1.85" fill="#b00d30"/>
<circle cx="105.00" cy="435.20" r="1.85" fill="#b00d30"/>
<line x1="100.20" y1="434.90" x2="109.80" y2="434.90" stroke="#111" stroke-width="1.1" />
<line x1="105.00" y1="434.00" x2="105.00" y2="435.80" stroke="#111" stroke-width="0.8" />
<line x1="103.60" y1="434.00" x2="106.40" y2="434.00" stroke="#111" stroke-width="0.8" />
<line x1="103.60" y1="435.80" x2="106.40" y2="435.80" stroke="#111" stroke-width="0.8" />
<circle cx="127.80" cy="428.60" r="1.85" fill="#24457f"/>
<circle cx="130.20" cy="428.40" r="1.85" fill="#24457f"/>
<circle cx="132.60" cy="428.40" r="1.85" fill="#24457f"/>
<circle cx="134.80" cy="428.60" r="1.85" fill="#24457f"/>
<circle cx="129.00" cy="426.40" r="1.85" fill="#24457f"/>
<circle cx="131.40" cy="426.00" r="1.85" fill="#24457f"/>
<circle cx="133.60" cy="426.60" r="1.85" fill="#24457f"/>
<circle cx="130.60" cy="430.00" r="1.85" fill="#24457f"/>
<line x1="125.60" y1="428.40" x2="136.40" y2="428.40" stroke="#111" stroke-width="1.1" />
<circle cx="146.70" cy="346.20" r="1.85" fill="#b00d30"/>
<circle cx="146.70" cy="386.00" r="1.85" fill="#b00d30"/>
<circle cx="146.70" cy="390.00" r="1.85" fill="#b00d30"/>
<circle cx="143.50" cy="400.80" r="1.85" fill="#b00d30"/>
<circle cx="146.70" cy="400.80" r="1.85" fill="#b00d30"/>
<circle cx="150.10" cy="400.80" r="1.85" fill="#b00d30"/>
<circle cx="143.50" cy="404.60" r="1.85" fill="#b00d30"/>
<circle cx="146.70" cy="404.60" r="1.85" fill="#b00d30"/>
<circle cx="150.10" cy="404.60" r="1.85" fill="#b00d30"/>
<circle cx="146.70" cy="413.90" r="1.85" fill="#b00d30"/>
<line x1="141.40" y1="395.50" x2="152.40" y2="395.50" stroke="#111" stroke-width="1.1" />
<line x1="146.90" y1="389.40" x2="146.90" y2="400.80" stroke="#111" stroke-width="0.8" />
<line x1="144.50" y1="389.40" x2="149.30" y2="389.40" stroke="#111" stroke-width="0.8" />
<line x1="144.50" y1="400.80" x2="149.30" y2="400.80" stroke="#111" stroke-width="0.8" />
<text x="55.40" y="426.60" font-size="4.6" text-anchor="middle" font-style="normal" font-weight="normal" fill="#1e1e1e" stroke="#1e1e1e" stroke-width="0.12" >***</text>
<text x="97.20" y="416.80" font-size="4.6" text-anchor="middle" font-style="normal" font-weight="normal" fill="#1e1e1e" stroke="#1e1e1e" stroke-width="0.12" >***</text>
<text x="140.10" y="342.20" font-size="4.6" text-anchor="middle" font-style="normal" font-weight="normal" fill="#1e1e1e" stroke="#1e1e1e" stroke-width="0.12" >**</text>
<text x="173.60" y="322.70" font-size="12.4" text-anchor="start" font-style="normal" font-weight="bold" fill="#000" stroke="#000" stroke-width="0.35" >D</text>
<line x1="209.00" y1="328.00" x2="209.00" y2="465.40" stroke="#111" stroke-width="1.15" />
<line x1="208.50" y1="464.90" x2="417.70" y2="464.90" stroke="#111" stroke-width="1.0" />
<line x1="209.00" y1="413.50" x2="417.70" y2="413.50" stroke="#111" stroke-width="1.0" />
<line x1="206.60" y1="330.50" x2="209.00" y2="330.50" stroke="#111" stroke-width="0.9" />
<text x="203.10" y="332.50" font-size="5.8" text-anchor="end" font-style="normal" font-weight="normal" fill="#1e1e1e" stroke="#1e1e1e" stroke-width="0.12" >0.4</text>
<line x1="206.60" y1="372.00" x2="209.00" y2="372.00" stroke="#111" stroke-width="0.9" />
<text x="203.10" y="374.00" font-size="5.8" text-anchor="end" font-style="normal" font-weight="normal" fill="#1e1e1e" stroke="#1e1e1e" stroke-width="0.12" >0.2</text>
<line x1="206.60" y1="413.50" x2="209.00" y2="413.50" stroke="#111" stroke-width="0.9" />
<text x="203.10" y="415.50" font-size="5.8" text-anchor="end" font-style="normal" font-weight="normal" fill="#1e1e1e" stroke="#1e1e1e" stroke-width="0.12" >0.0</text>
<line x1="206.60" y1="455.00" x2="209.00" y2="455.00" stroke="#111" stroke-width="0.9" />
<text x="203.10" y="457.00" font-size="5.8" text-anchor="end" font-style="normal" font-weight="normal" fill="#1e1e1e" stroke="#1e1e1e" stroke-width="0.12" >-0.2</text>
<line x1="207.40" y1="351.25" x2="209.00" y2="351.25" stroke="#111" stroke-width="0.8" />
<line x1="207.40" y1="392.75" x2="209.00" y2="392.75" stroke="#111" stroke-width="0.8" />
<line x1="207.40" y1="434.25" x2="209.00" y2="434.25" stroke="#111" stroke-width="0.8" />
<line x1="217.40" y1="464.90" x2="217.40" y2="467.70" stroke="#111" stroke-width="0.9" />
<rect x="212.20" y="402.30" width="3.50" height="11.20" rx="0" fill="#24457f" stroke="none" stroke-width="0.8" />
<line x1="213.95" y1="402.30" x2="213.95" y2="400.63" stroke="#111" stroke-width="0.7" />
<line x1="213.05" y1="400.63" x2="214.85" y2="400.63" stroke="#111" stroke-width="0.9" />
<rect x="219.20" y="382.38" width="3.50" height="31.12" rx="0" fill="#b00d30" stroke="none" stroke-width="0.8" />
<line x1="220.95" y1="382.38" x2="220.95" y2="381.34" stroke="#111" stroke-width="0.7" />
<line x1="220.05" y1="381.34" x2="221.85" y2="381.34" stroke="#111" stroke-width="0.9" />
<text x="0.00" y="0.00" font-size="5.8" text-anchor="end" font-style="normal" font-weight="normal" fill="#2a2a2a" stroke="#2a2a2a" stroke-width="0.05" transform="translate(220.50,474.60) rotate(-45)">Activated1</text>
<line x1="236.50" y1="464.90" x2="236.50" y2="467.70" stroke="#111" stroke-width="0.9" />
<rect x="231.30" y="395.24" width="3.50" height="18.26" rx="0" fill="#24457f" stroke="none" stroke-width="0.8" />
<line x1="233.05" y1="395.24" x2="233.05" y2="394.20" stroke="#111" stroke-width="0.7" />
<line x1="232.15" y1="394.20" x2="233.95" y2="394.20" stroke="#111" stroke-width="0.9" />
<rect x="238.30" y="396.90" width="3.50" height="16.60" rx="0" fill="#b00d30" stroke="none" stroke-width="0.8" />
<line x1="240.05" y1="396.90" x2="240.05" y2="395.45" stroke="#111" stroke-width="0.7" />
<line x1="239.15" y1="395.45" x2="240.95" y2="395.45" stroke="#111" stroke-width="0.9" />
<text x="0.00" y="0.00" font-size="5.8" text-anchor="end" font-style="normal" font-weight="normal" fill="#2a2a2a" stroke="#2a2a2a" stroke-width="0.05" transform="translate(239.60,474.60) rotate(-45)">Activated2</text>
<line x1="255.60" y1="464.90" x2="255.60" y2="467.70" stroke="#111" stroke-width="0.9" />
<rect x="250.40" y="391.71" width="3.50" height="21.79" rx="0" fill="#24457f" stroke="none" stroke-width="0.8" />
<line x1="252.15" y1="391.71" x2="252.15" y2="390.47" stroke="#111" stroke-width="0.7" />
<line x1="251.25" y1="390.47" x2="253.05" y2="390.47" stroke="#111" stroke-width="0.9" />
<rect x="257.40" y="384.87" width="3.50" height="28.63" rx="0" fill="#b00d30" stroke="none" stroke-width="0.8" />
<line x1="259.15" y1="384.87" x2="259.15" y2="383.62" stroke="#111" stroke-width="0.7" />
<line x1="258.25" y1="383.62" x2="260.05" y2="383.62" stroke="#111" stroke-width="0.9" />
<text x="0.00" y="0.00" font-size="5.8" text-anchor="end" font-style="normal" font-weight="normal" fill="#2a2a2a" stroke="#2a2a2a" stroke-width="0.05" transform="translate(258.70,474.60) rotate(-45)">Activated3</text>
<line x1="274.70" y1="464.90" x2="274.70" y2="467.70" stroke="#111" stroke-width="0.9" />
<rect x="269.50" y="402.30" width="3.50" height="11.20" rx="0" fill="#24457f" stroke="none" stroke-width="0.8" />
<line x1="271.25" y1="402.30" x2="271.25" y2="400.63" stroke="#111" stroke-width="0.7" />
<line x1="270.35" y1="400.63" x2="272.15" y2="400.63" stroke="#111" stroke-width="0.9" />
<rect x="276.50" y="374.07" width="3.50" height="39.43" rx="0" fill="#b00d30" stroke="none" stroke-width="0.8" />
<line x1="278.25" y1="374.07" x2="278.25" y2="372.42" stroke="#111" stroke-width="0.7" />
<line x1="277.35" y1="372.42" x2="279.15" y2="372.42" stroke="#111" stroke-width="0.9" />
<text x="0.00" y="0.00" font-size="5.8" text-anchor="end" font-style="normal" font-weight="normal" fill="#2a2a2a" stroke="#2a2a2a" stroke-width="0.05" transform="translate(277.80,474.60) rotate(-45)">Activated4</text>
<line x1="293.80" y1="464.90" x2="293.80" y2="467.70" stroke="#111" stroke-width="0.9" />
<rect x="288.60" y="408.94" width="3.50" height="4.56" rx="0" fill="#24457f" stroke="none" stroke-width="0.8" />
<line x1="290.35" y1="408.94" x2="290.35" y2="407.48" stroke="#111" stroke-width="0.7" />
<line x1="289.45" y1="407.48" x2="291.25" y2="407.48" stroke="#111" stroke-width="0.9" />
<rect x="295.60" y="413.50" width="3.50" height="8.30" rx="0" fill="#b00d30" stroke="none" stroke-width="0.8" />
<line x1="297.35" y1="421.80" x2="297.35" y2="424.91" stroke="#111" stroke-width="0.7" />
<line x1="296.45" y1="424.91" x2="298.25" y2="424.91" stroke="#111" stroke-width="0.9" />
<text x="0.00" y="0.00" font-size="5.8" text-anchor="end" font-style="normal" font-weight="normal" fill="#2a2a2a" stroke="#2a2a2a" stroke-width="0.05" transform="translate(296.90,474.60) rotate(-45)">Tnaive</text>
<line x1="312.90" y1="464.90" x2="312.90" y2="467.70" stroke="#111" stroke-width="0.9" />
<rect x="307.70" y="400.22" width="3.50" height="13.28" rx="0" fill="#24457f" stroke="none" stroke-width="0.8" />
<line x1="309.45" y1="400.22" x2="309.45" y2="398.35" stroke="#111" stroke-width="0.7" />
<line x1="308.55" y1="398.35" x2="310.35" y2="398.35" stroke="#111" stroke-width="0.9" />
<rect x="314.70" y="380.30" width="3.50" height="33.20" rx="0" fill="#b00d30" stroke="none" stroke-width="0.8" />
<line x1="316.45" y1="380.30" x2="316.45" y2="378.85" stroke="#111" stroke-width="0.7" />
<line x1="315.55" y1="378.85" x2="317.35" y2="378.85" stroke="#111" stroke-width="0.9" />
<text x="0.00" y="0.00" font-size="5.8" text-anchor="end" font-style="normal" font-weight="normal" fill="#2a2a2a" stroke="#2a2a2a" stroke-width="0.05" transform="translate(316.00,474.60) rotate(-45)">Treg</text>
<line x1="332.00" y1="464.90" x2="332.00" y2="467.70" stroke="#111" stroke-width="0.9" />
<rect x="326.80" y="374.07" width="3.50" height="39.43" rx="0" fill="#24457f" stroke="none" stroke-width="0.8" />
<line x1="328.55" y1="374.07" x2="328.55" y2="372.42" stroke="#111" stroke-width="0.7" />
<line x1="327.65" y1="372.42" x2="329.45" y2="372.42" stroke="#111" stroke-width="0.9" />
<rect x="333.80" y="353.95" width="3.50" height="59.55" rx="0" fill="#b00d30" stroke="none" stroke-width="0.8" />
<line x1="335.55" y1="353.95" x2="335.55" y2="352.91" stroke="#111" stroke-width="0.7" />
<line x1="334.65" y1="352.91" x2="336.45" y2="352.91" stroke="#111" stroke-width="0.9" />
<text x="0.00" y="0.00" font-size="5.8" text-anchor="end" font-style="normal" font-weight="normal" fill="#2a2a2a" stroke="#2a2a2a" stroke-width="0.05" transform="translate(335.10,474.60) rotate(-45)">Proliferating-S</text>
<line x1="351.10" y1="464.90" x2="351.10" y2="467.70" stroke="#111" stroke-width="0.9" />
<rect x="345.90" y="385.28" width="3.50" height="28.22" rx="0" fill="#24457f" stroke="none" stroke-width="0.8" />
<line x1="347.65" y1="385.28" x2="347.65" y2="383.62" stroke="#111" stroke-width="0.7" />
<line x1="346.75" y1="383.62" x2="348.55" y2="383.62" stroke="#111" stroke-width="0.9" />
<rect x="352.90" y="371.17" width="3.50" height="42.33" rx="0" fill="#b00d30" stroke="none" stroke-width="0.8" />
<line x1="354.65" y1="371.17" x2="354.65" y2="369.93" stroke="#111" stroke-width="0.7" />
<line x1="353.75" y1="369.93" x2="355.55" y2="369.93" stroke="#111" stroke-width="0.9" />
<text x="0.00" y="0.00" font-size="5.8" text-anchor="end" font-style="normal" font-weight="normal" fill="#2a2a2a" stroke="#2a2a2a" stroke-width="0.05" transform="translate(354.20,474.60) rotate(-45)">Proliferating-S/G2</text>
<line x1="370.20" y1="464.90" x2="370.20" y2="467.70" stroke="#111" stroke-width="0.9" />
<rect x="365.00" y="387.98" width="3.50" height="25.52" rx="0" fill="#24457f" stroke="none" stroke-width="0.8" />
<line x1="366.75" y1="387.98" x2="366.75" y2="386.11" stroke="#111" stroke-width="0.7" />
<line x1="365.85" y1="386.11" x2="367.65" y2="386.11" stroke="#111" stroke-width="0.9" />
<rect x="372.00" y="372.00" width="3.50" height="41.50" rx="0" fill="#b00d30" stroke="none" stroke-width="0.8" />
<line x1="373.75" y1="372.00" x2="373.75" y2="370.75" stroke="#111" stroke-width="0.7" />
<line x1="372.85" y1="370.75" x2="374.65" y2="370.75" stroke="#111" stroke-width="0.9" />
<text x="0.00" y="0.00" font-size="5.8" text-anchor="end" font-style="normal" font-weight="normal" fill="#2a2a2a" stroke="#2a2a2a" stroke-width="0.05" transform="translate(373.30,474.60) rotate(-45)">Proliferating-G2</text>
<line x1="389.30" y1="464.90" x2="389.30" y2="467.70" stroke="#111" stroke-width="0.9" />
<rect x="384.10" y="349.18" width="3.50" height="64.32" rx="0" fill="#24457f" stroke="none" stroke-width="0.8" />
<line x1="385.85" y1="349.18" x2="385.85" y2="336.73" stroke="#111" stroke-width="0.7" />
<line x1="384.95" y1="336.73" x2="386.75" y2="336.73" stroke="#111" stroke-width="0.9" />
<rect x="391.10" y="363.70" width="3.50" height="49.80" rx="0" fill="#b00d30" stroke="none" stroke-width="0.8" />
<line x1="392.85" y1="363.70" x2="392.85" y2="358.51" stroke="#111" stroke-width="0.7" />
<line x1="391.95" y1="358.51" x2="393.75" y2="358.51" stroke="#111" stroke-width="0.9" />
<text x="0.00" y="0.00" font-size="5.8" text-anchor="end" font-style="normal" font-weight="normal" fill="#2a2a2a" stroke="#2a2a2a" stroke-width="0.05" transform="translate(392.40,474.60) rotate(-45)">Unkown1</text>
<line x1="408.40" y1="464.90" x2="408.40" y2="467.70" stroke="#111" stroke-width="0.9" />
<rect x="403.20" y="400.22" width="3.50" height="13.28" rx="0" fill="#24457f" stroke="none" stroke-width="0.8" />
<line x1="404.95" y1="400.22" x2="404.95" y2="396.49" stroke="#111" stroke-width="0.7" />
<line x1="404.05" y1="396.49" x2="405.85" y2="396.49" stroke="#111" stroke-width="0.9" />
<rect x="410.20" y="398.35" width="3.50" height="15.15" rx="0" fill="#b00d30" stroke="none" stroke-width="0.8" />
<line x1="411.95" y1="398.35" x2="411.95" y2="390.68" stroke="#111" stroke-width="0.7" />
<line x1="411.05" y1="390.68" x2="412.85" y2="390.68" stroke="#111" stroke-width="0.9" />
<text x="0.00" y="0.00" font-size="5.8" text-anchor="end" font-style="normal" font-weight="normal" fill="#2a2a2a" stroke="#2a2a2a" stroke-width="0.05" transform="translate(411.50,474.60) rotate(-45)">Unknown2</text>
<text x="217.00" y="380.80" font-size="4.6" text-anchor="middle" font-style="normal" font-weight="normal" fill="#1e1e1e" stroke="#1e1e1e" stroke-width="0.12" >***</text>
<text x="255.00" y="382.80" font-size="4.6" text-anchor="middle" font-style="normal" font-weight="normal" fill="#1e1e1e" stroke="#1e1e1e" stroke-width="0.12" >***</text>
<text x="274.60" y="370.80" font-size="4.6" text-anchor="middle" font-style="normal" font-weight="normal" fill="#1e1e1e" stroke="#1e1e1e" stroke-width="0.12" >***</text>
<text x="293.20" y="403.80" font-size="4.6" text-anchor="middle" font-style="normal" font-weight="normal" fill="#1e1e1e" stroke="#1e1e1e" stroke-width="0.12" >***</text>
<text x="312.40" y="377.20" font-size="4.6" text-anchor="middle" font-style="normal" font-weight="normal" fill="#1e1e1e" stroke="#1e1e1e" stroke-width="0.12" >***</text>
<text x="331.50" y="351.10" font-size="4.6" text-anchor="middle" font-style="normal" font-weight="normal" fill="#1e1e1e" stroke="#1e1e1e" stroke-width="0.12" >***</text>
<text x="350.70" y="364.50" font-size="4.6" text-anchor="middle" font-style="normal" font-weight="normal" fill="#1e1e1e" stroke="#1e1e1e" stroke-width="0.12" >***</text>
<text x="370.30" y="366.30" font-size="4.6" text-anchor="middle" font-style="normal" font-weight="normal" fill="#1e1e1e" stroke="#1e1e1e" stroke-width="0.12" >***</text>
<text x="0.00" y="0.00" font-size="7.2" text-anchor="middle" font-style="normal" font-weight="normal" fill="#1e1e1e" stroke="#1e1e1e" stroke-width="0.12" textLength="68" lengthAdjust="spacingAndGlyphs" transform="translate(189.8,396.0) rotate(-90)">Module score (glycolysis)</text>
<rect x="217.40" y="338.30" width="7.30" height="3.80" rx="0" fill="#24457f" stroke="none" stroke-width="0.8" />
<text x="228.00" y="341.58" font-size="4.6" text-anchor="start" font-style="normal" font-weight="normal" fill="#444"  >syn</text>
<rect x="217.40" y="346.90" width="7.30" height="3.80" rx="0" fill="#b00d30" stroke="none" stroke-width="0.8" />
<text x="228.00" y="350.18" font-size="4.6" text-anchor="start" font-style="normal" font-weight="normal" fill="#444"  >allo</text>
<text x="7.80" y="533.70" font-size="12.2" text-anchor="start" font-style="normal" font-weight="bold" fill="#000" stroke="#000" stroke-width="0.35" >E</text>
<line x1="41.25" y1="538.00" x2="41.25" y2="674.40" stroke="#111" stroke-width="1.15" />
<line x1="40.75" y1="673.90" x2="247.90" y2="673.90" stroke="#111" stroke-width="1.0" />
<line x1="41.25" y1="622.40" x2="247.90" y2="622.40" stroke="#111" stroke-width="1.0" />
<line x1="38.85" y1="540.16" x2="41.25" y2="540.16" stroke="#111" stroke-width="0.9" />
<text x="35.20" y="542.16" font-size="5.8" text-anchor="end" font-style="normal" font-weight="normal" fill="#1e1e1e" stroke="#1e1e1e" stroke-width="0.12" >0.4</text>
<line x1="38.85" y1="581.28" x2="41.25" y2="581.28" stroke="#111" stroke-width="0.9" />
<text x="35.20" y="583.28" font-size="5.8" text-anchor="end" font-style="normal" font-weight="normal" fill="#1e1e1e" stroke="#1e1e1e" stroke-width="0.12" >0.2</text>
<line x1="38.85" y1="622.40" x2="41.25" y2="622.40" stroke="#111" stroke-width="0.9" />
<text x="35.20" y="624.40" font-size="5.8" text-anchor="end" font-style="normal" font-weight="normal" fill="#1e1e1e" stroke="#1e1e1e" stroke-width="0.12" >0.0</text>
<line x1="38.85" y1="663.52" x2="41.25" y2="663.52" stroke="#111" stroke-width="0.9" />
<text x="35.20" y="665.52" font-size="5.8" text-anchor="end" font-style="normal" font-weight="normal" fill="#1e1e1e" stroke="#1e1e1e" stroke-width="0.12" >-0.2</text>
<line x1="39.65" y1="560.72" x2="41.25" y2="560.72" stroke="#111" stroke-width="0.8" />
<line x1="39.65" y1="601.84" x2="41.25" y2="601.84" stroke="#111" stroke-width="0.8" />
<line x1="39.65" y1="642.96" x2="41.25" y2="642.96" stroke="#111" stroke-width="0.8" />
<line x1="50.00" y1="673.90" x2="50.00" y2="676.70" stroke="#111" stroke-width="0.9" />
<rect x="44.80" y="622.40" width="3.50" height="27.55" rx="0" fill="#24457f" stroke="none" stroke-width="0.8" />
<line x1="46.55" y1="649.95" x2="46.55" y2="651.60" stroke="#111" stroke-width="0.7" />
<line x1="45.65" y1="651.60" x2="47.45" y2="651.60" stroke="#111" stroke-width="0.9" />
<rect x="51.80" y="622.40" width="3.50" height="31.25" rx="0" fill="#b00d30" stroke="none" stroke-width="0.8" />
<line x1="53.55" y1="653.65" x2="53.55" y2="654.47" stroke="#111" stroke-width="0.7" />
<line x1="52.65" y1="654.47" x2="54.45" y2="654.47" stroke="#111" stroke-width="0.9" />
<text x="0.00" y="0.00" font-size="5.8" text-anchor="end" font-style="normal" font-weight="normal" fill="#2a2a2a" stroke="#2a2a2a" stroke-width="0.05" transform="translate(53.10,684.90) rotate(-45)">Activated1</text>
<line x1="68.78" y1="673.90" x2="68.78" y2="676.70" stroke="#111" stroke-width="0.9" />
<rect x="63.58" y="622.40" width="3.50" height="22.62" rx="0" fill="#24457f" stroke="none" stroke-width="0.8" />
<line x1="65.33" y1="645.02" x2="65.33" y2="646.25" stroke="#111" stroke-width="0.7" />
<line x1="64.43" y1="646.25" x2="66.23" y2="646.25" stroke="#111" stroke-width="0.9" />
<rect x="70.58" y="622.40" width="3.50" height="30.02" rx="0" fill="#b00d30" stroke="none" stroke-width="0.8" />
<line x1="72.33" y1="652.42" x2="72.33" y2="653.65" stroke="#111" stroke-width="0.7" />
<line x1="71.43" y1="653.65" x2="73.23" y2="653.65" stroke="#111" stroke-width="0.9" />
<text x="0.00" y="0.00" font-size="5.8" text-anchor="end" font-style="normal" font-weight="normal" fill="#2a2a2a" stroke="#2a2a2a" stroke-width="0.05" transform="translate(71.88,684.90) rotate(-45)">Activated2</text>
<line x1="87.56" y1="673.90" x2="87.56" y2="676.70" stroke="#111" stroke-width="0.9" />
<rect x="82.36" y="622.40" width="3.50" height="19.94" rx="0" fill="#24457f" stroke="none" stroke-width="0.8" />
<line x1="84.11" y1="642.34" x2="84.11" y2="643.58" stroke="#111" stroke-width="0.7" />
<line x1="83.21" y1="643.58" x2="85.01" y2="643.58" stroke="#111" stroke-width="0.9" />
<rect x="89.36" y="622.40" width="3.50" height="32.48" rx="0" fill="#b00d30" stroke="none" stroke-width="0.8" />
<line x1="91.11" y1="654.88" x2="91.11" y2="656.12" stroke="#111" stroke-width="0.7" />
<line x1="90.21" y1="656.12" x2="92.01" y2="656.12" stroke="#111" stroke-width="0.9" />
<text x="0.00" y="0.00" font-size="5.8" text-anchor="end" font-style="normal" font-weight="normal" fill="#2a2a2a" stroke="#2a2a2a" stroke-width="0.05" transform="translate(90.66,684.90) rotate(-45)">Activated3</text>
<line x1="106.34" y1="673.90" x2="106.34" y2="676.70" stroke="#111" stroke-width="0.9" />
<rect x="101.14" y="622.40" width="3.50" height="21.18" rx="0" fill="#24457f" stroke="none" stroke-width="0.8" />
<line x1="102.89" y1="643.58" x2="102.89" y2="644.81" stroke="#111" stroke-width="0.7" />
<line x1="101.99" y1="644.81" x2="103.79" y2="644.81" stroke="#111" stroke-width="0.9" />
<rect x="108.14" y="622.40" width="3.50" height="25.08" rx="0" fill="#b00d30" stroke="none" stroke-width="0.8" />
<line x1="109.89" y1="647.48" x2="109.89" y2="648.72" stroke="#111" stroke-width="0.7" />
<line x1="108.99" y1="648.72" x2="110.79" y2="648.72" stroke="#111" stroke-width="0.9" />
<text x="0.00" y="0.00" font-size="5.8" text-anchor="end" font-style="normal" font-weight="normal" fill="#2a2a2a" stroke="#2a2a2a" stroke-width="0.05" transform="translate(109.44,684.90) rotate(-45)">Activated4</text>
<line x1="125.12" y1="673.90" x2="125.12" y2="676.70" stroke="#111" stroke-width="0.9" />
<rect x="119.92" y="622.40" width="3.50" height="18.09" rx="0" fill="#24457f" stroke="none" stroke-width="0.8" />
<line x1="121.67" y1="640.49" x2="121.67" y2="641.73" stroke="#111" stroke-width="0.7" />
<line x1="120.77" y1="641.73" x2="122.57" y2="641.73" stroke="#111" stroke-width="0.9" />
<rect x="126.92" y="622.40" width="3.50" height="25.08" rx="0" fill="#b00d30" stroke="none" stroke-width="0.8" />
<line x1="128.67" y1="647.48" x2="128.67" y2="649.95" stroke="#111" stroke-width="0.7" />
<line x1="127.77" y1="649.95" x2="129.57" y2="649.95" stroke="#111" stroke-width="0.9" />
<text x="0.00" y="0.00" font-size="5.8" text-anchor="end" font-style="normal" font-weight="normal" fill="#2a2a2a" stroke="#2a2a2a" stroke-width="0.05" transform="translate(128.22,684.90) rotate(-45)">Tnaive</text>
<line x1="143.90" y1="673.90" x2="143.90" y2="676.70" stroke="#111" stroke-width="0.9" />
<rect x="138.70" y="622.40" width="3.50" height="23.23" rx="0" fill="#24457f" stroke="none" stroke-width="0.8" />
<line x1="140.45" y1="645.63" x2="140.45" y2="646.87" stroke="#111" stroke-width="0.7" />
<line x1="139.55" y1="646.87" x2="141.35" y2="646.87" stroke="#111" stroke-width="0.9" />
<rect x="145.70" y="622.40" width="3.50" height="30.02" rx="0" fill="#b00d30" stroke="none" stroke-width="0.8" />
<line x1="147.45" y1="652.42" x2="147.45" y2="654.06" stroke="#111" stroke-width="0.7" />
<line x1="146.55" y1="654.06" x2="148.35" y2="654.06" stroke="#111" stroke-width="0.9" />
<text x="0.00" y="0.00" font-size="5.8" text-anchor="end" font-style="normal" font-weight="normal" fill="#2a2a2a" stroke="#2a2a2a" stroke-width="0.05" transform="translate(147.00,684.90) rotate(-45)">Treg</text>
<line x1="162.68" y1="673.90" x2="162.68" y2="676.70" stroke="#111" stroke-width="0.9" />
<rect x="157.48" y="622.40" width="3.50" height="8.84" rx="0" fill="#24457f" stroke="none" stroke-width="0.8" />
<line x1="159.23" y1="631.24" x2="159.23" y2="632.89" stroke="#111" stroke-width="0.7" />
<line x1="158.33" y1="632.89" x2="160.13" y2="632.89" stroke="#111" stroke-width="0.9" />
<rect x="164.48" y="622.40" width="3.50" height="13.57" rx="0" fill="#b00d30" stroke="none" stroke-width="0.8" />
<line x1="166.23" y1="635.97" x2="166.23" y2="637.20" stroke="#111" stroke-width="0.7" />
<line x1="165.33" y1="637.20" x2="167.13" y2="637.20" stroke="#111" stroke-width="0.9" />
<text x="0.00" y="0.00" font-size="5.8" text-anchor="end" font-style="normal" font-weight="normal" fill="#2a2a2a" stroke="#2a2a2a" stroke-width="0.05" transform="translate(165.78,684.90) rotate(-45)">Proliferating-S</text>
<line x1="181.46" y1="673.90" x2="181.46" y2="676.70" stroke="#111" stroke-width="0.9" />
<rect x="176.26" y="622.40" width="3.50" height="5.55" rx="0" fill="#24457f" stroke="none" stroke-width="0.8" />
<line x1="178.01" y1="627.95" x2="178.01" y2="629.39" stroke="#111" stroke-width="0.7" />
<line x1="177.11" y1="629.39" x2="178.91" y2="629.39" stroke="#111" stroke-width="0.9" />
<rect x="183.26" y="622.40" width="3.50" height="16.45" rx="0" fill="#b00d30" stroke="none" stroke-width="0.8" />
<line x1="185.01" y1="638.85" x2="185.01" y2="640.29" stroke="#111" stroke-width="0.7" />
<line x1="184.11" y1="640.29" x2="185.91" y2="640.29" stroke="#111" stroke-width="0.9" />
<text x="0.00" y="0.00" font-size="5.8" text-anchor="end" font-style="normal" font-weight="normal" fill="#2a2a2a" stroke="#2a2a2a" stroke-width="0.05" transform="translate(184.56,684.90) rotate(-45)">Proliferating-S/G2</text>
<line x1="200.24" y1="673.90" x2="200.24" y2="676.70" stroke="#111" stroke-width="0.9" />
<rect x="195.04" y="622.40" width="3.50" height="5.55" rx="0" fill="#24457f" stroke="none" stroke-width="0.8" />
<line x1="196.79" y1="627.95" x2="196.79" y2="630.21" stroke="#111" stroke-width="0.7" />
<line x1="195.89" y1="630.21" x2="197.69" y2="630.21" stroke="#111" stroke-width="0.9" />
<rect x="202.04" y="622.40" width="3.50" height="15.21" rx="0" fill="#b00d30" stroke="none" stroke-width="0.8" />
<line x1="203.79" y1="637.61" x2="203.79" y2="639.05" stroke="#111" stroke-width="0.7" />
<line x1="202.89" y1="639.05" x2="204.69" y2="639.05" stroke="#111" stroke-width="0.9" />
<text x="0.00" y="0.00" font-size="5.8" text-anchor="end" font-style="normal" font-weight="normal" fill="#2a2a2a" stroke="#2a2a2a" stroke-width="0.05" transform="translate(203.34,684.90) rotate(-45)">Proliferating-G2</text>
<line x1="219.02" y1="673.90" x2="219.02" y2="676.70" stroke="#111" stroke-width="0.9" />
<rect x="213.82" y="622.40" width="3.50" height="8.02" rx="0" fill="#24457f" stroke="none" stroke-width="0.8" />
<line x1="215.57" y1="630.42" x2="215.57" y2="641.32" stroke="#111" stroke-width="0.7" />
<line x1="214.67" y1="641.32" x2="216.47" y2="641.32" stroke="#111" stroke-width="0.9" />
<rect x="220.82" y="622.40" width="3.50" height="22.20" rx="0" fill="#b00d30" stroke="none" stroke-width="0.8" />
<line x1="222.57" y1="644.60" x2="222.57" y2="647.69" stroke="#111" stroke-width="0.7" />
<line x1="221.67" y1="647.69" x2="223.47" y2="647.69" stroke="#111" stroke-width="0.9" />
<text x="0.00" y="0.00" font-size="5.8" text-anchor="end" font-style="normal" font-weight="normal" fill="#2a2a2a" stroke="#2a2a2a" stroke-width="0.05" transform="translate(222.12,684.90) rotate(-45)">Unkown1</text>
<line x1="237.80" y1="673.90" x2="237.80" y2="676.70" stroke="#111" stroke-width="0.9" />
<rect x="232.60" y="622.40" width="3.50" height="28.78" rx="0" fill="#24457f" stroke="none" stroke-width="0.8" />
<line x1="234.35" y1="651.18" x2="234.35" y2="654.88" stroke="#111" stroke-width="0.7" />
<line x1="233.45" y1="654.88" x2="235.25" y2="654.88" stroke="#111" stroke-width="0.9" />
<rect x="239.60" y="622.40" width="3.50" height="35.16" rx="0" fill="#b00d30" stroke="none" stroke-width="0.8" />
<line x1="241.35" y1="657.56" x2="241.35" y2="661.67" stroke="#111" stroke-width="0.7" />
<line x1="240.45" y1="661.67" x2="242.25" y2="661.67" stroke="#111" stroke-width="0.9" />
<text x="0.00" y="0.00" font-size="5.8" text-anchor="end" font-style="normal" font-weight="normal" fill="#2a2a2a" stroke="#2a2a2a" stroke-width="0.05" transform="translate(240.90,684.90) rotate(-45)">Unknown2</text>
<text x="68.00" y="658.80" font-size="4.6" text-anchor="middle" font-style="normal" font-weight="normal" fill="#1e1e1e" stroke="#1e1e1e" stroke-width="0.12" >***</text>
<text x="87.00" y="660.60" font-size="4.6" text-anchor="middle" font-style="normal" font-weight="normal" fill="#1e1e1e" stroke="#1e1e1e" stroke-width="0.12" >***</text>
<text x="124.40" y="654.60" font-size="4.6" text-anchor="middle" font-style="normal" font-weight="normal" fill="#1e1e1e" stroke="#1e1e1e" stroke-width="0.12" >**</text>
<text x="143.20" y="659.50" font-size="4.6" text-anchor="middle" font-style="normal" font-weight="normal" fill="#1e1e1e" stroke="#1e1e1e" stroke-width="0.12" >***</text>
<text x="182.10" y="646.50" font-size="4.6" text-anchor="middle" font-style="normal" font-weight="normal" fill="#1e1e1e" stroke="#1e1e1e" stroke-width="0.12" >***</text>
<text x="218.70" y="653.80" font-size="4.6" text-anchor="middle" font-style="normal" font-weight="normal" fill="#1e1e1e" stroke="#1e1e1e" stroke-width="0.12" >*</text>
<text x="0.00" y="0.00" font-size="7.2" text-anchor="middle" font-style="normal" font-weight="normal" fill="#1e1e1e" stroke="#1e1e1e" stroke-width="0.12" textLength="52.7" lengthAdjust="spacingAndGlyphs" transform="translate(21.7,605.5) rotate(-90)">Module score (TCA)</text>
<rect x="49.10" y="544.00" width="7.30" height="3.80" rx="0" fill="#24457f" stroke="none" stroke-width="0.8" />
<text x="59.90" y="547.76" font-size="6.2" text-anchor="start" font-style="normal" font-weight="normal" fill="#444"  >syn</text>
<rect x="49.10" y="553.10" width="7.30" height="3.80" rx="0" fill="#b00d30" stroke="none" stroke-width="0.8" />
<text x="59.90" y="556.86" font-size="6.2" text-anchor="start" font-style="normal" font-weight="normal" fill="#444"  >allo</text>
<text x="264.20" y="534.50" font-size="12.2" text-anchor="start" font-style="normal" font-weight="bold" fill="#000" stroke="#000" stroke-width="0.35" >F</text>
<text x="355.00" y="544.10" font-size="8.0" text-anchor="middle" font-style="normal" font-weight="normal" fill="#1e1e1e"  stroke="#1e1e1e" stroke-width="0.16">Liver</text>
<line x1="295.90" y1="549.50" x2="295.90" y2="608.30" stroke="#111" stroke-width="1.2" />
<line x1="295.90" y1="618.60" x2="295.90" y2="674.40" stroke="#111" stroke-width="1.2" />
<path d="M294.4,608.6 L298.1,608.6 L295.9,606.4 Z" fill="#111"/>
<path d="M294.4,618.4 L298.1,618.4 L295.9,620.6 Z" fill="#111"/>
<line x1="295.40" y1="674.00" x2="413.80" y2="674.00" stroke="#111" stroke-width="1.2" />
<line x1="293.60" y1="552.00" x2="295.90" y2="552.00" stroke="#111" stroke-width="0.9" />
<text x="290.20" y="554.00" font-size="5.8" text-anchor="end" font-style="normal" font-weight="normal" fill="#1e1e1e" stroke="#1e1e1e" stroke-width="0.12" >25</text>
<line x1="293.60" y1="574.25" x2="295.90" y2="574.25" stroke="#111" stroke-width="0.9" />
<text x="290.20" y="576.25" font-size="5.8" text-anchor="end" font-style="normal" font-weight="normal" fill="#1e1e1e" stroke="#1e1e1e" stroke-width="0.12" >20</text>
<line x1="293.60" y1="596.50" x2="295.90" y2="596.50" stroke="#111" stroke-width="0.9" />
<text x="290.20" y="598.50" font-size="5.8" text-anchor="end" font-style="normal" font-weight="normal" fill="#1e1e1e" stroke="#1e1e1e" stroke-width="0.12" >15</text>
<line x1="293.60" y1="674.00" x2="295.90" y2="674.00" stroke="#111" stroke-width="0.9" />
<text x="290.20" y="676.00" font-size="5.8" text-anchor="end" font-style="normal" font-weight="normal" fill="#1e1e1e" stroke="#1e1e1e" stroke-width="0.12" >0</text>
<line x1="293.60" y1="651.60" x2="295.90" y2="651.60" stroke="#111" stroke-width="0.9" />
<text x="290.20" y="653.60" font-size="5.8" text-anchor="end" font-style="normal" font-weight="normal" fill="#1e1e1e" stroke="#1e1e1e" stroke-width="0.12" >1</text>
<line x1="293.60" y1="629.20" x2="295.90" y2="629.20" stroke="#111" stroke-width="0.9" />
<text x="290.20" y="631.20" font-size="5.8" text-anchor="end" font-style="normal" font-weight="normal" fill="#1e1e1e" stroke="#1e1e1e" stroke-width="0.12" >2</text>
<line x1="313.75" y1="674.00" x2="313.75" y2="676.80" stroke="#111" stroke-width="0.9" />
<text x="313.75" y="685.20" font-size="5.7" text-anchor="middle" font-style="normal" font-weight="normal" fill="#1e1e1e" stroke="#1e1e1e" stroke-width="0.12" >GLUT1</text>
<line x1="354.40" y1="674.00" x2="354.40" y2="676.80" stroke="#111" stroke-width="0.9" />
<text x="354.40" y="685.20" font-size="5.7" text-anchor="middle" font-style="normal" font-weight="normal" fill="#1e1e1e" stroke="#1e1e1e" stroke-width="0.12" >HK2</text>
<line x1="395.20" y1="674.00" x2="395.20" y2="676.80" stroke="#111" stroke-width="0.9" />
<text x="395.20" y="685.20" font-size="5.7" text-anchor="middle" font-style="normal" font-weight="normal" fill="#1e1e1e" stroke="#1e1e1e" stroke-width="0.12" >GAPDH</text>
<text x="0.00" y="0.00" font-size="7.3" text-anchor="middle" font-style="normal" font-weight="normal" fill="#1e1e1e" stroke="#1e1e1e" stroke-width="0.12" textLength="49.4" lengthAdjust="spacingAndGlyphs" transform="translate(276.8,611.2) rotate(-90)">MFI ratio (Tem/Tn)</text>
<line x1="295.90" y1="651.70" x2="413.80" y2="651.70" stroke="#111" stroke-width="1.0" stroke-dasharray="2.1,2.35"/>
<circle cx="309.50" cy="560.00" r="1.75" fill="#24457f"/>
<text x="314.60" y="561.90" font-size="5.8" text-anchor="start" font-style="normal" font-weight="normal" fill="#333"  >syn</text>
<circle cx="309.50" cy="569.50" r="1.75" fill="#b00d30"/>
<text x="314.60" y="571.40" font-size="5.8" text-anchor="start" font-style="normal" font-weight="normal" fill="#333"  >allo</text>
<circle cx="301.60" cy="655.20" r="1.85" fill="#24457f"/>
<circle cx="303.80" cy="654.80" r="1.85" fill="#24457f"/>
<circle cx="306.00" cy="654.80" r="1.85" fill="#24457f"/>
<circle cx="308.20" cy="654.80" r="1.85" fill="#24457f"/>
<circle cx="310.20" cy="655.20" r="1.85" fill="#24457f"/>
<circle cx="303.00" cy="656.00" r="1.85" fill="#24457f"/>
<circle cx="305.40" cy="656.20" r="1.85" fill="#24457f"/>
<circle cx="307.80" cy="656.00" r="1.85" fill="#24457f"/>
<line x1="300.40" y1="655.30" x2="310.80" y2="655.30" stroke="#111" stroke-width="1.1" />
<circle cx="317.60" cy="656.60" r="1.85" fill="#b00d30"/>
<circle cx="320.00" cy="656.40" r="1.85" fill="#b00d30"/>
<circle cx="322.40" cy="656.40" r="1.85" fill="#b00d30"/>
<circle cx="324.80" cy="656.60" r="1.85" fill="#b00d30"/>
<circle cx="319.00" cy="657.80" r="1.85" fill="#b00d30"/>
<circle cx="321.40" cy="658.00" r="1.85" fill="#b00d30"/>
<circle cx="323.80" cy="657.80" r="1.85" fill="#b00d30"/>
<circle cx="321.40" cy="654.00" r="1.85" fill="#b00d30"/>
<line x1="316.20" y1="656.30" x2="326.60" y2="656.30" stroke="#111" stroke-width="1.1" />
<circle cx="343.40" cy="650.00" r="1.85" fill="#24457f"/>
<circle cx="345.60" cy="649.60" r="1.85" fill="#24457f"/>
<circle cx="347.80" cy="649.60" r="1.85" fill="#24457f"/>
<circle cx="350.00" cy="650.00" r="1.85" fill="#24457f"/>
<circle cx="344.60" cy="648.40" r="1.85" fill="#24457f"/>
<circle cx="346.80" cy="645.80" r="1.85" fill="#24457f"/>
<circle cx="349.00" cy="648.40" r="1.85" fill="#24457f"/>
<circle cx="346.80" cy="650.80" r="1.85" fill="#24457f"/>
<line x1="341.60" y1="649.50" x2="352.00" y2="649.50" stroke="#111" stroke-width="1.1" />
<circle cx="362.10" cy="622.00" r="1.85" fill="#b00d30"/>
<circle cx="362.10" cy="624.60" r="1.85" fill="#b00d30"/>
<circle cx="360.00" cy="627.00" r="1.85" fill="#b00d30"/>
<circle cx="364.20" cy="627.00" r="1.85" fill="#b00d30"/>
<circle cx="362.10" cy="628.80" r="1.85" fill="#b00d30"/>
<circle cx="359.20" cy="630.60" r="1.85" fill="#b00d30"/>
<circle cx="365.00" cy="630.60" r="1.85" fill="#b00d30"/>
<circle cx="360.60" cy="632.20" r="1.85" fill="#b00d30"/>
<circle cx="363.60" cy="632.20" r="1.85" fill="#b00d30"/>
<circle cx="362.10" cy="635.00" r="1.85" fill="#b00d30"/>
<circle cx="362.10" cy="642.60" r="1.85" fill="#b00d30"/>
<line x1="356.90" y1="630.40" x2="367.30" y2="630.40" stroke="#111" stroke-width="1.1" />
<line x1="362.10" y1="629.40" x2="362.10" y2="631.40" stroke="#111" stroke-width="0.8" />
<line x1="360.70" y1="629.40" x2="363.50" y2="629.40" stroke="#111" stroke-width="0.8" />
<line x1="360.70" y1="631.40" x2="363.50" y2="631.40" stroke="#111" stroke-width="0.8" />
<circle cx="391.20" cy="629.80" r="1.85" fill="#24457f"/>
<circle cx="387.70" cy="633.10" r="1.85" fill="#24457f"/>
<circle cx="391.40" cy="634.60" r="1.85" fill="#24457f"/>
<circle cx="384.10" cy="636.50" r="1.85" fill="#24457f"/>
<circle cx="387.50" cy="637.70" r="1.85" fill="#24457f"/>
<circle cx="391.20" cy="640.20" r="1.85" fill="#24457f"/>
<circle cx="384.20" cy="643.20" r="1.85" fill="#24457f"/>
<line x1="382.50" y1="636.30" x2="393.30" y2="636.30" stroke="#111" stroke-width="1.1" />
<line x1="387.90" y1="635.00" x2="387.90" y2="637.60" stroke="#111" stroke-width="0.8" />
<line x1="386.50" y1="635.00" x2="389.30" y2="635.00" stroke="#111" stroke-width="0.8" />
<line x1="386.50" y1="637.60" x2="389.30" y2="637.60" stroke="#111" stroke-width="0.8" />
<circle cx="400.00" cy="561.30" r="1.85" fill="#b00d30"/>
<circle cx="406.60" cy="560.10" r="1.85" fill="#b00d30"/>
<circle cx="406.60" cy="564.80" r="1.85" fill="#b00d30"/>
<circle cx="402.90" cy="575.60" r="1.85" fill="#b00d30"/>
<circle cx="400.00" cy="580.80" r="1.85" fill="#b00d30"/>
<circle cx="406.60" cy="583.50" r="1.85" fill="#b00d30"/>
<circle cx="400.00" cy="595.90" r="1.85" fill="#b00d30"/>
<circle cx="406.60" cy="595.90" r="1.85" fill="#b00d30"/>
<circle cx="402.90" cy="606.90" r="1.85" fill="#b00d30"/>
<line x1="398.80" y1="583.50" x2="408.20" y2="583.50" stroke="#111" stroke-width="1.0" />
<line x1="403.50" y1="577.90" x2="403.50" y2="589.30" stroke="#111" stroke-width="0.8" />
<line x1="401.90" y1="577.90" x2="405.10" y2="577.90" stroke="#111" stroke-width="0.8" />
<line x1="401.90" y1="589.30" x2="405.10" y2="589.30" stroke="#111" stroke-width="0.8" />
<text x="352.40" y="612.20" font-size="4.6" text-anchor="middle" font-style="normal" font-weight="normal" fill="#1e1e1e" stroke="#1e1e1e" stroke-width="0.12" >***</text>
<text x="395.20" y="554.20" font-size="4.6" text-anchor="middle" font-style="normal" font-weight="normal" fill="#1e1e1e" stroke="#1e1e1e" stroke-width="0.12" >***</text>
<rect x="0" y="0" width="1.05" height="724" fill="#000"/>
<rect x="0" y="0" width="520" height="0.9" fill="#000"/>
<rect x="518.8" y="0" width="1.2" height="724" fill="#000"/>
<rect x="0" y="722.7" width="520" height="1.3" fill="#000"/>
</svg>
</body></html>
